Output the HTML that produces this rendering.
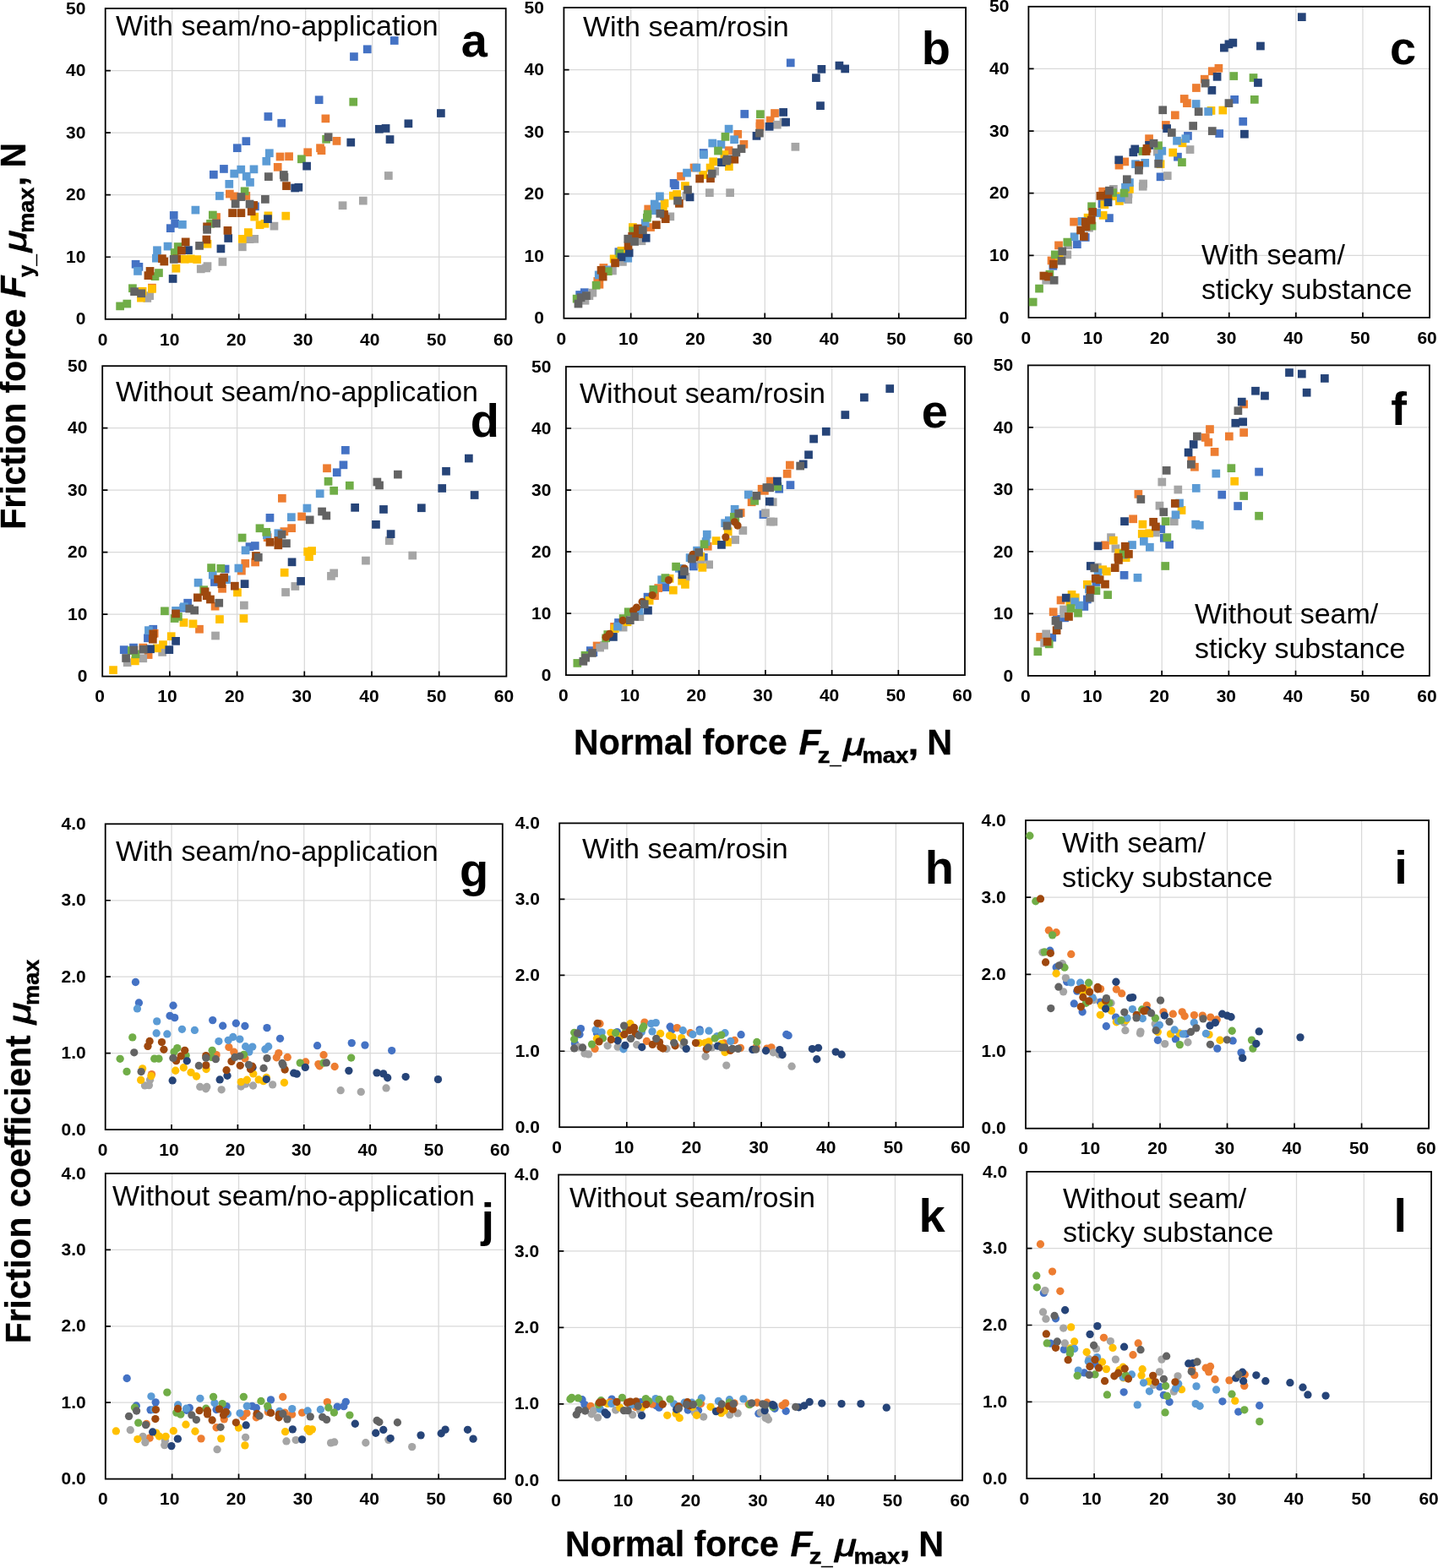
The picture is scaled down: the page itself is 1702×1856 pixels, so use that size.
<!DOCTYPE html>
<html lang="en">
<head>
<meta charset="utf-8">
<title>Friction force and friction coefficient vs normal force</title>
<style>
html,body{margin:0;padding:0;background:#fff;width:1702px;height:1856px;overflow:hidden;}
svg{display:block;}
text{font-family:"Liberation Sans", Arial, Helvetica, sans-serif;fill:#000;}
.tk{font-size:21px;font-weight:bold;}
.ti{font-size:34px;}
.pl{font-size:56px;font-weight:bold;}
.ax{font-weight:bold;}
.fr{fill:none;stroke:#000;stroke-width:1.8;}
.gr{stroke:#d9d9d9;stroke-width:1.25;fill:none;}
.tm{stroke:#000;stroke-width:1.7;fill:none;}
.B{fill:#4472C4;}
.O{fill:#ED7D31;}
.G{fill:#A5A5A5;}
.Y{fill:#FFC000;}
.L{fill:#5B9BD5;}
.R{fill:#70AD47;}
.D{fill:#264478;}
.N{fill:#9E480E;}
.K{fill:#636363;}
</style>
</head>
<body>
<svg width="1702" height="1856" viewBox="0 0 1702 1856" role="img" aria-label="Friction force and friction coefficient versus normal force, panels a to l">
<rect x="0" y="0" width="1702" height="1856" fill="#fff"/>
<g id="panel-a">
<path class="gr" d="M203.7 10V377.8M282.7 10V377.8M361.7 10V377.8M440.7 10V377.8M519.7 10V377.8M124.7 304.24H598.7M124.7 230.68H598.7M124.7 157.12H598.7M124.7 83.56H598.7"/>
<path class="tm" d="M203.7 377.8V371.6M282.7 377.8V371.6M361.7 377.8V371.6M440.7 377.8V371.6M519.7 377.8V371.6M124.7 304.24H130.9M124.7 230.68H130.9M124.7 157.12H130.9M124.7 83.56H130.9"/>
<rect class="fr" x="124.7" y="10" width="474" height="367.8"/>
<g class="B"><rect x="155.76" y="307.89" width="9.7" height="9.7"/><rect x="159.57" y="311" width="9.7" height="9.7"/><rect x="200.88" y="250.08" width="9.7" height="9.7"/><rect x="202.29" y="259.95" width="9.7" height="9.7"/><rect x="196.94" y="265.31" width="9.7" height="9.7"/><rect x="297.05" y="239.5" width="9.7" height="9.7"/><rect x="247.98" y="201.85" width="9.7" height="9.7"/><rect x="260.11" y="195.09" width="9.7" height="9.7"/><rect x="461.9" y="43.16" width="9.7" height="9.7"/><rect x="429.89" y="53.45" width="9.7" height="9.7"/><rect x="414.09" y="62.19" width="9.7" height="9.7"/><rect x="372.78" y="113.38" width="9.7" height="9.7"/><rect x="312.56" y="133.12" width="9.7" height="9.7"/><rect x="328.36" y="140.88" width="9.7" height="9.7"/><rect x="286.48" y="162.31" width="9.7" height="9.7"/><rect x="275.9" y="170.35" width="9.7" height="9.7"/></g>
<g class="O"><rect x="175.08" y="335.81" width="9.7" height="9.7"/><rect x="251.23" y="252.19" width="9.7" height="9.7"/><rect x="267.02" y="224.7" width="9.7" height="9.7"/><rect x="272.38" y="227.52" width="9.7" height="9.7"/><rect x="286.48" y="227.09" width="9.7" height="9.7"/><rect x="323.85" y="192.97" width="9.7" height="9.7"/><rect x="380.53" y="135.52" width="9.7" height="9.7"/><rect x="393.65" y="162.03" width="9.7" height="9.7"/><rect x="374.19" y="170.35" width="9.7" height="9.7"/><rect x="375.6" y="173.31" width="9.7" height="9.7"/><rect x="359.38" y="175.43" width="9.7" height="9.7"/><rect x="326.67" y="180.64" width="9.7" height="9.7"/><rect x="337.24" y="180.36" width="9.7" height="9.7"/></g>
<g class="G"><rect x="172.26" y="345.26" width="9.7" height="9.7"/><rect x="169.44" y="348.08" width="9.7" height="9.7"/><rect x="232.89" y="313.53" width="9.7" height="9.7"/><rect x="240.65" y="310.29" width="9.7" height="9.7"/><rect x="239.24" y="312.55" width="9.7" height="9.7"/><rect x="258.56" y="305.07" width="9.7" height="9.7"/><rect x="281.97" y="287.45" width="9.7" height="9.7"/><rect x="290.71" y="278.28" width="9.7" height="9.7"/><rect x="296.35" y="278" width="9.7" height="9.7"/><rect x="319.62" y="262.77" width="9.7" height="9.7"/><rect x="454.99" y="203.12" width="9.7" height="9.7"/><rect x="424.95" y="232.74" width="9.7" height="9.7"/><rect x="400.7" y="238.38" width="9.7" height="9.7"/></g>
<g class="Y"><rect x="163.8" y="339.9" width="9.7" height="9.7"/><rect x="162.11" y="347.8" width="9.7" height="9.7"/><rect x="175.08" y="337.08" width="9.7" height="9.7"/><rect x="213.86" y="301.97" width="9.7" height="9.7"/><rect x="220.91" y="301.55" width="9.7" height="9.7"/><rect x="228.38" y="302.25" width="9.7" height="9.7"/><rect x="203.56" y="312.83" width="9.7" height="9.7"/><rect x="240.65" y="283.92" width="9.7" height="9.7"/><rect x="281.97" y="278" width="9.7" height="9.7"/><rect x="289.02" y="270.24" width="9.7" height="9.7"/><rect x="296.35" y="251.77" width="9.7" height="9.7"/><rect x="302.69" y="261.36" width="9.7" height="9.7"/><rect x="308.62" y="259.95" width="9.7" height="9.7"/><rect x="312.56" y="250.5" width="9.7" height="9.7"/><rect x="333.43" y="250.78" width="9.7" height="9.7"/></g>
<g class="L"><rect x="158.16" y="316.07" width="9.7" height="9.7"/><rect x="181.14" y="291.4" width="9.7" height="9.7"/><rect x="180.01" y="300.84" width="9.7" height="9.7"/><rect x="193.69" y="286.74" width="9.7" height="9.7"/><rect x="211.04" y="260.94" width="9.7" height="9.7"/><rect x="226.55" y="243.73" width="9.7" height="9.7"/><rect x="255.03" y="227.09" width="9.7" height="9.7"/><rect x="266.45" y="212.99" width="9.7" height="9.7"/><rect x="272.38" y="200.73" width="9.7" height="9.7"/><rect x="280.41" y="195.79" width="9.7" height="9.7"/><rect x="286.9" y="203.83" width="9.7" height="9.7"/><rect x="291.13" y="211.02" width="9.7" height="9.7"/><rect x="295.64" y="195.51" width="9.7" height="9.7"/><rect x="313.97" y="176.41" width="9.7" height="9.7"/><rect x="310.45" y="186" width="9.7" height="9.7"/></g>
<g class="R"><rect x="137.29" y="357.53" width="9.7" height="9.7"/><rect x="145.47" y="354.71" width="9.7" height="9.7"/><rect x="152.09" y="336.38" width="9.7" height="9.7"/><rect x="183.12" y="318.19" width="9.7" height="9.7"/><rect x="178.6" y="322.28" width="9.7" height="9.7"/><rect x="205.82" y="287.17" width="9.7" height="9.7"/><rect x="201.87" y="294.22" width="9.7" height="9.7"/><rect x="246.99" y="249.66" width="9.7" height="9.7"/><rect x="244.17" y="259.95" width="9.7" height="9.7"/><rect x="284.79" y="221.45" width="9.7" height="9.7"/><rect x="413.39" y="115.78" width="9.7" height="9.7"/><rect x="381.24" y="159.91" width="9.7" height="9.7"/><rect x="352.05" y="183.46" width="9.7" height="9.7"/></g>
<g class="D"><rect x="218.09" y="291.25" width="9.7" height="9.7"/><rect x="199.76" y="325.1" width="9.7" height="9.7"/><rect x="265.33" y="277.15" width="9.7" height="9.7"/><rect x="256.58" y="289.56" width="9.7" height="9.7"/><rect x="312.14" y="254.31" width="9.7" height="9.7"/><rect x="344.29" y="217.65" width="9.7" height="9.7"/><rect x="348.52" y="216.94" width="9.7" height="9.7"/><rect x="517.03" y="129.17" width="9.7" height="9.7"/><rect x="478.53" y="141.44" width="9.7" height="9.7"/><rect x="443.99" y="147.93" width="9.7" height="9.7"/><rect x="451.74" y="147.08" width="9.7" height="9.7"/><rect x="456.68" y="160.2" width="9.7" height="9.7"/><rect x="410.43" y="163.72" width="9.7" height="9.7"/><rect x="358.25" y="191.78" width="9.7" height="9.7"/></g>
<g class="N"><rect x="172.68" y="316.07" width="9.7" height="9.7"/><rect x="170.57" y="321.29" width="9.7" height="9.7"/><rect x="187.07" y="301.27" width="9.7" height="9.7"/><rect x="189.46" y="304.65" width="9.7" height="9.7"/><rect x="214.84" y="281.52" width="9.7" height="9.7"/><rect x="210.05" y="291.68" width="9.7" height="9.7"/><rect x="204.27" y="301.55" width="9.7" height="9.7"/><rect x="240.23" y="263.48" width="9.7" height="9.7"/><rect x="239.52" y="278.7" width="9.7" height="9.7"/><rect x="264.62" y="267.99" width="9.7" height="9.7"/><rect x="270.26" y="247.26" width="9.7" height="9.7"/><rect x="280.56" y="247.26" width="9.7" height="9.7"/><rect x="292.82" y="245.43" width="9.7" height="9.7"/><rect x="295.36" y="238.09" width="9.7" height="9.7"/><rect x="334.14" y="215.25" width="9.7" height="9.7"/></g>
<g class="K"><rect x="154.21" y="340.33" width="9.7" height="9.7"/><rect x="162.39" y="342.44" width="9.7" height="9.7"/><rect x="200.88" y="301.97" width="9.7" height="9.7"/><rect x="251.23" y="259.67" width="9.7" height="9.7"/><rect x="240.23" y="267" width="9.7" height="9.7"/><rect x="231.2" y="286.04" width="9.7" height="9.7"/><rect x="280.56" y="228.22" width="9.7" height="9.7"/><rect x="273.79" y="236.4" width="9.7" height="9.7"/><rect x="290.71" y="236.68" width="9.7" height="9.7"/><rect x="309.04" y="231.04" width="9.7" height="9.7"/><rect x="312.99" y="204.25" width="9.7" height="9.7"/><rect x="330.9" y="202.14" width="9.7" height="9.7"/><rect x="331.6" y="204.96" width="9.7" height="9.7"/><rect x="383.78" y="157.38" width="9.7" height="9.7"/></g>
<text class="tk" text-anchor="end" x="101.4" y="384.4">0</text><text class="tk" text-anchor="end" x="101.4" y="310.84">10</text><text class="tk" text-anchor="end" x="101.4" y="237.28">20</text><text class="tk" text-anchor="end" x="101.4" y="163.72">30</text><text class="tk" text-anchor="end" x="101.4" y="90.16">40</text><text class="tk" text-anchor="end" x="101.4" y="16.6">50</text>
<text class="tk" text-anchor="middle" x="121.7" y="408.5">0</text><text class="tk" text-anchor="middle" x="200.7" y="408.5">10</text><text class="tk" text-anchor="middle" x="279.7" y="408.5">20</text><text class="tk" text-anchor="middle" x="358.7" y="408.5">30</text><text class="tk" text-anchor="middle" x="437.7" y="408.5">40</text><text class="tk" text-anchor="middle" x="516.7" y="408.5">50</text><text class="tk" text-anchor="middle" x="595.7" y="408.5">60</text>
<text class="ti" x="137" y="41.8">With seam/no-application</text>
<text class="pl" x="545.8" y="67.2">a</text>
</g>
<g id="panel-b">
<path class="gr" d="M746.68 9V376.8M825.97 9V376.8M905.25 9V376.8M984.53 9V376.8M1063.82 9V376.8M667.4 303.24H1143.1M667.4 229.68H1143.1M667.4 156.12H1143.1M667.4 82.56H1143.1"/>
<path class="tm" d="M746.68 376.8V370.6M825.97 376.8V370.6M905.25 376.8V370.6M984.53 376.8V370.6M1063.82 376.8V370.6M667.4 303.24H673.6M667.4 229.68H673.6M667.4 156.12H673.6M667.4 82.56H673.6"/>
<rect class="fr" x="667.4" y="9" width="475.7" height="367.8"/>
<g class="B"><rect x="686.94" y="341.31" width="9.7" height="9.7"/><rect x="681.3" y="344.13" width="9.7" height="9.7"/><rect x="727.55" y="293.37" width="9.7" height="9.7"/><rect x="792.7" y="212.01" width="9.7" height="9.7"/><rect x="794.11" y="214.4" width="9.7" height="9.7"/><rect x="930.89" y="69.53" width="9.7" height="9.7"/><rect x="876.39" y="130.11" width="9.7" height="9.7"/><rect x="827.86" y="176.17" width="9.7" height="9.7"/></g>
<g class="O"><rect x="704.57" y="331.87" width="9.7" height="9.7"/><rect x="702.45" y="328.06" width="9.7" height="9.7"/><rect x="709.5" y="312.12" width="9.7" height="9.7"/><rect x="765.2" y="264.18" width="9.7" height="9.7"/><rect x="762.38" y="242.61" width="9.7" height="9.7"/><rect x="801.16" y="203.83" width="9.7" height="9.7"/><rect x="816.67" y="193.68" width="9.7" height="9.7"/><rect x="912.14" y="129.17" width="9.7" height="9.7"/><rect x="906.78" y="137.64" width="9.7" height="9.7"/><rect x="894.65" y="141.21" width="9.7" height="9.7"/><rect x="894.65" y="144.91" width="9.7" height="9.7"/><rect x="868.41" y="153.96" width="9.7" height="9.7"/><rect x="875.57" y="165.89" width="9.7" height="9.7"/><rect x="857.72" y="173.29" width="9.7" height="9.7"/></g>
<g class="G"><rect x="696.53" y="341.74" width="9.7" height="9.7"/><rect x="692.58" y="345.26" width="9.7" height="9.7"/><rect x="687.65" y="350.9" width="9.7" height="9.7"/><rect x="720.08" y="315.65" width="9.7" height="9.7"/><rect x="732.07" y="305.07" width="9.7" height="9.7"/><rect x="754.63" y="280.4" width="9.7" height="9.7"/><rect x="788.47" y="251.49" width="9.7" height="9.7"/><rect x="807.51" y="227.09" width="9.7" height="9.7"/><rect x="841.35" y="197.91" width="9.7" height="9.7"/><rect x="835" y="223.29" width="9.7" height="9.7"/><rect x="859.26" y="223.29" width="9.7" height="9.7"/><rect x="914.96" y="142.85" width="9.7" height="9.7"/><rect x="922.71" y="139.75" width="9.7" height="9.7"/><rect x="936.53" y="168.94" width="9.7" height="9.7"/></g>
<g class="Y"><rect x="721.77" y="301.55" width="9.7" height="9.7"/><rect x="730.66" y="291.96" width="9.7" height="9.7"/><rect x="744.05" y="264.18" width="9.7" height="9.7"/><rect x="780.01" y="244.44" width="9.7" height="9.7"/><rect x="781.7" y="235.7" width="9.7" height="9.7"/><rect x="791.99" y="226.81" width="9.7" height="9.7"/><rect x="796.23" y="225.12" width="9.7" height="9.7"/><rect x="806.1" y="215.25" width="9.7" height="9.7"/><rect x="827.25" y="202.14" width="9.7" height="9.7"/><rect x="835.71" y="193.68" width="9.7" height="9.7"/><rect x="857.99" y="192.27" width="9.7" height="9.7"/><rect x="852.54" y="178.23" width="9.7" height="9.7"/><rect x="839.37" y="186.45" width="9.7" height="9.7"/></g>
<g class="L"><rect x="703.86" y="320.58" width="9.7" height="9.7"/><rect x="714.02" y="314.52" width="9.7" height="9.7"/><rect x="738.41" y="300.84" width="9.7" height="9.7"/><rect x="758.86" y="259.25" width="9.7" height="9.7"/><rect x="770.14" y="244.44" width="9.7" height="9.7"/><rect x="769.86" y="236.68" width="9.7" height="9.7"/><rect x="772.25" y="239.5" width="9.7" height="9.7"/><rect x="776.06" y="227.52" width="9.7" height="9.7"/><rect x="808.21" y="199.74" width="9.7" height="9.7"/><rect x="819.49" y="193.68" width="9.7" height="9.7"/><rect x="857.72" y="147.79" width="9.7" height="9.7"/><rect x="864.22" y="160.38" width="9.7" height="9.7"/><rect x="838.39" y="164.66" width="9.7" height="9.7"/><rect x="848.59" y="166.05" width="9.7" height="9.7"/><rect x="828.11" y="178.23" width="9.7" height="9.7"/></g>
<g class="R"><rect x="677.78" y="348.79" width="9.7" height="9.7"/><rect x="700.76" y="332.85" width="9.7" height="9.7"/><rect x="714.86" y="316.35" width="9.7" height="9.7"/><rect x="728.54" y="295.2" width="9.7" height="9.7"/><rect x="744.47" y="268.41" width="9.7" height="9.7"/><rect x="761.68" y="248.67" width="9.7" height="9.7"/><rect x="760.97" y="252.9" width="9.7" height="9.7"/><rect x="895.06" y="130.36" width="9.7" height="9.7"/><rect x="853.6" y="157.01" width="9.7" height="9.7"/><rect x="845.13" y="173.7" width="9.7" height="9.7"/></g>
<g class="D"><rect x="730.66" y="299.43" width="9.7" height="9.7"/><rect x="739.82" y="294.5" width="9.7" height="9.7"/><rect x="759.84" y="276.87" width="9.7" height="9.7"/><rect x="811.74" y="228.5" width="9.7" height="9.7"/><rect x="849.1" y="187.33" width="9.7" height="9.7"/><rect x="967.55" y="77" width="9.7" height="9.7"/><rect x="961.07" y="87.29" width="9.7" height="9.7"/><rect x="988.56" y="72.77" width="9.7" height="9.7"/><rect x="995.33" y="76.58" width="9.7" height="9.7"/><rect x="966.14" y="120.29" width="9.7" height="9.7"/><rect x="922.29" y="128.05" width="9.7" height="9.7"/><rect x="925.25" y="139.75" width="9.7" height="9.7"/><rect x="905.79" y="144.97" width="9.7" height="9.7"/><rect x="890.62" y="156.02" width="9.7" height="9.7"/></g>
<g class="N"><rect x="708.8" y="322.7" width="9.7" height="9.7"/><rect x="706.68" y="314.94" width="9.7" height="9.7"/><rect x="723.18" y="306.48" width="9.7" height="9.7"/><rect x="738.69" y="286.04" width="9.7" height="9.7"/><rect x="743.35" y="274.76" width="9.7" height="9.7"/><rect x="751.1" y="272.22" width="9.7" height="9.7"/><rect x="749.97" y="265.59" width="9.7" height="9.7"/><rect x="771.97" y="261.36" width="9.7" height="9.7"/><rect x="782.83" y="254.31" width="9.7" height="9.7"/><rect x="781.14" y="249.09" width="9.7" height="9.7"/><rect x="799.05" y="235.98" width="9.7" height="9.7"/><rect x="823.3" y="206.65" width="9.7" height="9.7"/><rect x="836.13" y="206.37" width="9.7" height="9.7"/><rect x="864.46" y="183.82" width="9.7" height="9.7"/></g>
<g class="K"><rect x="679.61" y="354.71" width="9.7" height="9.7"/><rect x="682.71" y="347.38" width="9.7" height="9.7"/><rect x="689.06" y="345.26" width="9.7" height="9.7"/><rect x="738.41" y="277.86" width="9.7" height="9.7"/><rect x="746.17" y="281.1" width="9.7" height="9.7"/><rect x="756.04" y="267.42" width="9.7" height="9.7"/><rect x="776.48" y="247.96" width="9.7" height="9.7"/><rect x="797.21" y="232.74" width="9.7" height="9.7"/><rect x="809.2" y="219.76" width="9.7" height="9.7"/><rect x="837.82" y="200.73" width="9.7" height="9.7"/><rect x="894.07" y="152.73" width="9.7" height="9.7"/><rect x="872.69" y="171.24" width="9.7" height="9.7"/><rect x="866.52" y="175.6" width="9.7" height="9.7"/><rect x="855.83" y="183.58" width="9.7" height="9.7"/><rect x="855" y="185.63" width="9.7" height="9.7"/></g>
<text class="tk" text-anchor="end" x="643.9" y="383.4">0</text><text class="tk" text-anchor="end" x="643.9" y="309.84">10</text><text class="tk" text-anchor="end" x="643.9" y="236.28">20</text><text class="tk" text-anchor="end" x="643.9" y="162.72">30</text><text class="tk" text-anchor="end" x="643.9" y="89.16">40</text><text class="tk" text-anchor="end" x="643.9" y="15.6">50</text>
<text class="tk" text-anchor="middle" x="664.4" y="407.5">0</text><text class="tk" text-anchor="middle" x="743.68" y="407.5">10</text><text class="tk" text-anchor="middle" x="822.97" y="407.5">20</text><text class="tk" text-anchor="middle" x="902.25" y="407.5">30</text><text class="tk" text-anchor="middle" x="981.53" y="407.5">40</text><text class="tk" text-anchor="middle" x="1060.82" y="407.5">50</text><text class="tk" text-anchor="middle" x="1140.1" y="407.5">60</text>
<text class="ti" x="690" y="43.3">With seam/rosin</text>
<text class="pl" x="1090.7" y="75.8">b</text>
</g>
<g id="panel-c">
<path class="gr" d="M1296.52 7.8V375.9M1375.63 7.8V375.9M1454.75 7.8V375.9M1533.87 7.8V375.9M1612.98 7.8V375.9M1217.4 302.28H1692.1M1217.4 228.66H1692.1M1217.4 155.04H1692.1M1217.4 81.42H1692.1"/>
<path class="tm" d="M1296.52 375.9V369.7M1375.63 375.9V369.7M1454.75 375.9V369.7M1533.87 375.9V369.7M1612.98 375.9V369.7M1217.4 302.28H1223.6M1217.4 228.66H1223.6M1217.4 155.04H1223.6M1217.4 81.42H1223.6"/>
<rect class="fr" x="1217.4" y="7.8" width="474.7" height="368.1"/>
<g class="B"><rect x="1241.53" y="309.94" width="9.7" height="9.7"/><rect x="1270.01" y="284.28" width="9.7" height="9.7"/><rect x="1279.89" y="276.1" width="9.7" height="9.7"/><rect x="1308.09" y="253.26" width="9.7" height="9.7"/><rect x="1299.63" y="236.62" width="9.7" height="9.7"/><rect x="1368.72" y="204.47" width="9.7" height="9.7"/><rect x="1456.3" y="113" width="9.7" height="9.7"/><rect x="1438.33" y="153.2" width="9.7" height="9.7"/><rect x="1466.38" y="138.98" width="9.7" height="9.7"/><rect x="1401.11" y="156.04" width="9.7" height="9.7"/><rect x="1389.09" y="180.86" width="9.7" height="9.7"/></g>
<g class="O"><rect x="1239.7" y="303.6" width="9.7" height="9.7"/><rect x="1248.16" y="285.55" width="9.7" height="9.7"/><rect x="1266.21" y="257.77" width="9.7" height="9.7"/><rect x="1300.33" y="221.81" width="9.7" height="9.7"/><rect x="1319.65" y="190.79" width="9.7" height="9.7"/><rect x="1326.42" y="186.56" width="9.7" height="9.7"/><rect x="1437.56" y="75.9" width="9.7" height="9.7"/><rect x="1429.93" y="79.39" width="9.7" height="9.7"/><rect x="1420.88" y="88.83" width="9.7" height="9.7"/><rect x="1411.06" y="99.17" width="9.7" height="9.7"/><rect x="1396.84" y="112.09" width="9.7" height="9.7"/><rect x="1400.07" y="117.27" width="9.7" height="9.7"/><rect x="1385.98" y="131.48" width="9.7" height="9.7"/><rect x="1375" y="143.12" width="9.7" height="9.7"/><rect x="1355.22" y="159.27" width="9.7" height="9.7"/></g>
<g class="G"><rect x="1233.35" y="326.87" width="9.7" height="9.7"/><rect x="1258.45" y="296.55" width="9.7" height="9.7"/><rect x="1259.44" y="285.27" width="9.7" height="9.7"/><rect x="1284.12" y="264.82" width="9.7" height="9.7"/><rect x="1313.02" y="218.99" width="9.7" height="9.7"/><rect x="1330.37" y="231.4" width="9.7" height="9.7"/><rect x="1330.65" y="224.63" width="9.7" height="9.7"/><rect x="1348.28" y="212.65" width="9.7" height="9.7"/><rect x="1347.85" y="215.89" width="9.7" height="9.7"/><rect x="1376.9" y="203.2" width="9.7" height="9.7"/><rect x="1403.69" y="172.2" width="9.7" height="9.7"/><rect x="1364.91" y="174.79" width="9.7" height="9.7"/></g>
<g class="Y"><rect x="1248.86" y="300.07" width="9.7" height="9.7"/><rect x="1282.71" y="252.84" width="9.7" height="9.7"/><rect x="1300.76" y="250.01" width="9.7" height="9.7"/><rect x="1302.45" y="237.32" width="9.7" height="9.7"/><rect x="1315.84" y="227.45" width="9.7" height="9.7"/><rect x="1320.07" y="233.09" width="9.7" height="9.7"/><rect x="1332.06" y="218.99" width="9.7" height="9.7"/><rect x="1368.72" y="189.38" width="9.7" height="9.7"/><rect x="1428.64" y="126.05" width="9.7" height="9.7"/><rect x="1442.47" y="125.67" width="9.7" height="9.7"/><rect x="1394.64" y="164.44" width="9.7" height="9.7"/><rect x="1383.4" y="175.69" width="9.7" height="9.7"/></g>
<g class="L"><rect x="1266.77" y="275.4" width="9.7" height="9.7"/><rect x="1275.66" y="257.07" width="9.7" height="9.7"/><rect x="1293.28" y="247.19" width="9.7" height="9.7"/><rect x="1321.91" y="229.57" width="9.7" height="9.7"/><rect x="1327.12" y="216.88" width="9.7" height="9.7"/><rect x="1332.06" y="211.24" width="9.7" height="9.7"/><rect x="1339.11" y="189.38" width="9.7" height="9.7"/><rect x="1350.39" y="187.97" width="9.7" height="9.7"/><rect x="1410.8" y="118.17" width="9.7" height="9.7"/><rect x="1425.28" y="127.22" width="9.7" height="9.7"/><rect x="1398.52" y="159.27" width="9.7" height="9.7"/><rect x="1388.18" y="161.86" width="9.7" height="9.7"/><rect x="1370.47" y="173.88" width="9.7" height="9.7"/><rect x="1366.85" y="181.9" width="9.7" height="9.7"/></g>
<g class="R"><rect x="1217.84" y="352.67" width="9.7" height="9.7"/><rect x="1225.17" y="336.74" width="9.7" height="9.7"/><rect x="1237.58" y="319.82" width="9.7" height="9.7"/><rect x="1243.93" y="296.55" width="9.7" height="9.7"/><rect x="1258.45" y="281.74" width="9.7" height="9.7"/><rect x="1287.64" y="262.71" width="9.7" height="9.7"/><rect x="1287.22" y="239.44" width="9.7" height="9.7"/><rect x="1312.32" y="223.22" width="9.7" height="9.7"/><rect x="1325.71" y="223.65" width="9.7" height="9.7"/><rect x="1394.1" y="187.27" width="9.7" height="9.7"/><rect x="1455.4" y="85.21" width="9.7" height="9.7"/><rect x="1478.66" y="87.15" width="9.7" height="9.7"/><rect x="1479.96" y="113" width="9.7" height="9.7"/><rect x="1366.21" y="167.42" width="9.7" height="9.7"/><rect x="1347.46" y="174.14" width="9.7" height="9.7"/></g>
<g class="D"><rect x="1306.68" y="234.5" width="9.7" height="9.7"/><rect x="1319.37" y="184.44" width="9.7" height="9.7"/><rect x="1454.49" y="45.78" width="9.7" height="9.7"/><rect x="1449.58" y="47.46" width="9.7" height="9.7"/><rect x="1444.02" y="51.73" width="9.7" height="9.7"/><rect x="1487.07" y="49.66" width="9.7" height="9.7"/><rect x="1435.75" y="85.98" width="9.7" height="9.7"/><rect x="1429.54" y="102.01" width="9.7" height="9.7"/><rect x="1484.09" y="93.09" width="9.7" height="9.7"/><rect x="1376.29" y="147.25" width="9.7" height="9.7"/><rect x="1468.06" y="153.85" width="9.7" height="9.7"/><rect x="1355.22" y="167.03" width="9.7" height="9.7"/><rect x="1338.42" y="171.55" width="9.7" height="9.7"/><rect x="1336.48" y="175.43" width="9.7" height="9.7"/><rect x="1535.97" y="15.31" width="9.7" height="9.7"/></g>
<g class="N"><rect x="1230.53" y="321.65" width="9.7" height="9.7"/><rect x="1236.17" y="322.64" width="9.7" height="9.7"/><rect x="1242.09" y="307.83" width="9.7" height="9.7"/><rect x="1278.05" y="275.11" width="9.7" height="9.7"/><rect x="1274.25" y="267.64" width="9.7" height="9.7"/><rect x="1280.59" y="263.41" width="9.7" height="9.7"/><rect x="1279.89" y="257.77" width="9.7" height="9.7"/><rect x="1286.94" y="255.66" width="9.7" height="9.7"/><rect x="1288.35" y="246.07" width="9.7" height="9.7"/><rect x="1297.51" y="227.03" width="9.7" height="9.7"/><rect x="1306.68" y="225.34" width="9.7" height="9.7"/><rect x="1343.34" y="190.79" width="9.7" height="9.7"/><rect x="1352.64" y="170.91" width="9.7" height="9.7"/><rect x="1351.73" y="174.14" width="9.7" height="9.7"/></g>
<g class="K"><rect x="1242.8" y="326.87" width="9.7" height="9.7"/><rect x="1251.68" y="303.88" width="9.7" height="9.7"/><rect x="1252.39" y="292.6" width="9.7" height="9.7"/><rect x="1308.09" y="220.83" width="9.7" height="9.7"/><rect x="1328.96" y="207.43" width="9.7" height="9.7"/><rect x="1343.06" y="196.71" width="9.7" height="9.7"/><rect x="1366.33" y="188.96" width="9.7" height="9.7"/><rect x="1421.79" y="93.74" width="9.7" height="9.7"/><rect x="1449.58" y="117.27" width="9.7" height="9.7"/><rect x="1413.78" y="127.35" width="9.7" height="9.7"/><rect x="1371.38" y="125.41" width="9.7" height="9.7"/><rect x="1381.98" y="152.17" width="9.7" height="9.7"/><rect x="1407.31" y="144.15" width="9.7" height="9.7"/><rect x="1429.93" y="150.23" width="9.7" height="9.7"/><rect x="1360.65" y="164.83" width="9.7" height="9.7"/></g>
<text class="tk" text-anchor="end" x="1194.4" y="382.5">0</text><text class="tk" text-anchor="end" x="1194.4" y="308.88">10</text><text class="tk" text-anchor="end" x="1194.4" y="235.26">20</text><text class="tk" text-anchor="end" x="1194.4" y="161.64">30</text><text class="tk" text-anchor="end" x="1194.4" y="88.02">40</text><text class="tk" text-anchor="end" x="1194.4" y="14.4">50</text>
<text class="tk" text-anchor="middle" x="1214.4" y="406.6">0</text><text class="tk" text-anchor="middle" x="1293.52" y="406.6">10</text><text class="tk" text-anchor="middle" x="1372.63" y="406.6">20</text><text class="tk" text-anchor="middle" x="1451.75" y="406.6">30</text><text class="tk" text-anchor="middle" x="1530.87" y="406.6">40</text><text class="tk" text-anchor="middle" x="1609.98" y="406.6">50</text><text class="tk" text-anchor="middle" x="1689.1" y="406.6">60</text>
<text class="ti" x="1422" y="312.7">With seam/</text>
<text class="ti" x="1422" y="354.3">sticky substance</text>
<text class="pl" x="1644.9" y="76.3">c</text>
</g>
<g id="panel-d">
<path class="gr" d="M200.9 433.2V800.6M280.6 433.2V800.6M360.3 433.2V800.6M440 433.2V800.6M519.7 433.2V800.6M121.2 727.12H599.4M121.2 653.64H599.4M121.2 580.16H599.4M121.2 506.68H599.4"/>
<path class="tm" d="M200.9 800.6V794.4M280.6 800.6V794.4M360.3 800.6V794.4M440 800.6V794.4M519.7 800.6V794.4M121.2 727.12H127.4M121.2 653.64H127.4M121.2 580.16H127.4M121.2 506.68H127.4"/>
<rect class="fr" x="121.2" y="433.2" width="478.2" height="367.4"/>
<g class="B"><rect x="141.88" y="764.27" width="9.7" height="9.7"/><rect x="153.16" y="761.74" width="9.7" height="9.7"/><rect x="176.42" y="739.88" width="9.7" height="9.7"/><rect x="170.08" y="750.46" width="9.7" height="9.7"/><rect x="217.32" y="708.86" width="9.7" height="9.7"/><rect x="212.38" y="714.78" width="9.7" height="9.7"/><rect x="261.74" y="668.67" width="9.7" height="9.7"/><rect x="249.05" y="684.18" width="9.7" height="9.7"/><rect x="290.64" y="642.3" width="9.7" height="9.7"/><rect x="296.99" y="641.17" width="9.7" height="9.7"/><rect x="314.62" y="608.03" width="9.7" height="9.7"/><rect x="404.01" y="528.01" width="9.7" height="9.7"/><rect x="401.61" y="545.49" width="9.7" height="9.7"/><rect x="393.86" y="554.37" width="9.7" height="9.7"/></g>
<g class="O"><rect x="164.44" y="761.74" width="9.7" height="9.7"/><rect x="170.78" y="770.2" width="9.7" height="9.7"/><rect x="177.84" y="744.82" width="9.7" height="9.7"/><rect x="231.14" y="739.88" width="9.7" height="9.7"/><rect x="249.75" y="712.81" width="9.7" height="9.7"/><rect x="258.21" y="691.94" width="9.7" height="9.7"/><rect x="281.05" y="670.78" width="9.7" height="9.7"/><rect x="285.43" y="662.04" width="9.7" height="9.7"/><rect x="297.27" y="660.63" width="9.7" height="9.7"/><rect x="311.8" y="631.3" width="9.7" height="9.7"/><rect x="331.54" y="624.25" width="9.7" height="9.7"/><rect x="340.28" y="620.3" width="9.7" height="9.7"/><rect x="382.15" y="549.44" width="9.7" height="9.7"/><rect x="328.99" y="584.97" width="9.7" height="9.7"/><rect x="352.26" y="606.55" width="9.7" height="9.7"/></g>
<g class="G"><rect x="145.83" y="779.36" width="9.7" height="9.7"/><rect x="164.44" y="774.43" width="9.7" height="9.7"/><rect x="187.28" y="767.09" width="9.7" height="9.7"/><rect x="250.17" y="747.64" width="9.7" height="9.7"/><rect x="284.02" y="711.68" width="9.7" height="9.7"/><rect x="333.23" y="696.17" width="9.7" height="9.7"/><rect x="344.51" y="689.12" width="9.7" height="9.7"/><rect x="455.9" y="635.17" width="9.7" height="9.7"/><rect x="483.4" y="652.66" width="9.7" height="9.7"/><rect x="428.12" y="658.72" width="9.7" height="9.7"/><rect x="390.33" y="673.53" width="9.7" height="9.7"/><rect x="387.09" y="677.05" width="9.7" height="9.7"/></g>
<g class="Y"><rect x="129.19" y="788.25" width="9.7" height="9.7"/><rect x="154.99" y="777.53" width="9.7" height="9.7"/><rect x="181.08" y="762.44" width="9.7" height="9.7"/><rect x="188.13" y="758.21" width="9.7" height="9.7"/><rect x="197.86" y="748.34" width="9.7" height="9.7"/><rect x="212.66" y="732.12" width="9.7" height="9.7"/><rect x="223.66" y="733.53" width="9.7" height="9.7"/><rect x="255.11" y="728.18" width="9.7" height="9.7"/><rect x="283.59" y="727.19" width="9.7" height="9.7"/><rect x="276.12" y="696.45" width="9.7" height="9.7"/><rect x="331.82" y="672.9" width="9.7" height="9.7"/><rect x="359.31" y="648.15" width="9.7" height="9.7"/><rect x="364.25" y="647.16" width="9.7" height="9.7"/><rect x="361.14" y="654.21" width="9.7" height="9.7"/></g>
<g class="L"><rect x="171.07" y="741.29" width="9.7" height="9.7"/><rect x="203.22" y="718.02" width="9.7" height="9.7"/><rect x="213.09" y="713.37" width="9.7" height="9.7"/><rect x="229.73" y="684.89" width="9.7" height="9.7"/><rect x="246.93" y="675.72" width="9.7" height="9.7"/><rect x="263.15" y="681.36" width="9.7" height="9.7"/><rect x="277.53" y="667.68" width="9.7" height="9.7"/><rect x="285.71" y="646.53" width="9.7" height="9.7"/><rect x="311.09" y="628.48" width="9.7" height="9.7"/><rect x="324.49" y="626.37" width="9.7" height="9.7"/><rect x="340" y="607.33" width="9.7" height="9.7"/><rect x="373.83" y="579.47" width="9.7" height="9.7"/><rect x="358.6" y="596.68" width="9.7" height="9.7"/></g>
<g class="R"><rect x="151.04" y="765.26" width="9.7" height="9.7"/><rect x="155.7" y="769.49" width="9.7" height="9.7"/><rect x="190.1" y="718.45" width="9.7" height="9.7"/><rect x="206.04" y="725.07" width="9.7" height="9.7"/><rect x="201.81" y="727.19" width="9.7" height="9.7"/><rect x="236.35" y="693.35" width="9.7" height="9.7"/><rect x="245.24" y="667.26" width="9.7" height="9.7"/><rect x="256.52" y="667.96" width="9.7" height="9.7"/><rect x="281.76" y="631.72" width="9.7" height="9.7"/><rect x="302.63" y="620.44" width="9.7" height="9.7"/><rect x="310.39" y="624.96" width="9.7" height="9.7"/><rect x="383.7" y="564.95" width="9.7" height="9.7"/><rect x="390.33" y="575.95" width="9.7" height="9.7"/><rect x="408.95" y="569.89" width="9.7" height="9.7"/></g>
<g class="D"><rect x="173.18" y="763.43" width="9.7" height="9.7"/><rect x="195.46" y="764.27" width="9.7" height="9.7"/><rect x="203.22" y="753.98" width="9.7" height="9.7"/><rect x="284.72" y="686.3" width="9.7" height="9.7"/><rect x="340.7" y="660.49" width="9.7" height="9.7"/><rect x="351.28" y="683.05" width="9.7" height="9.7"/><rect x="415.29" y="595.97" width="9.7" height="9.7"/><rect x="449.13" y="598.09" width="9.7" height="9.7"/><rect x="493.97" y="596.4" width="9.7" height="9.7"/><rect x="440.11" y="616" width="9.7" height="9.7"/><rect x="457.74" y="627.28" width="9.7" height="9.7"/><rect x="523.16" y="552.96" width="9.7" height="9.7"/><rect x="518.37" y="573.13" width="9.7" height="9.7"/><rect x="550" y="537.72" width="9.7" height="9.7"/><rect x="556.78" y="581.15" width="9.7" height="9.7"/></g>
<g class="N"><rect x="176.42" y="745.52" width="9.7" height="9.7"/><rect x="176" y="751.87" width="9.7" height="9.7"/><rect x="203.22" y="721.55" width="9.7" height="9.7"/><rect x="229.02" y="702.51" width="9.7" height="9.7"/><rect x="237.76" y="695.46" width="9.7" height="9.7"/><rect x="244.11" y="704.63" width="9.7" height="9.7"/><rect x="239.88" y="700.4" width="9.7" height="9.7"/><rect x="253.28" y="680.66" width="9.7" height="9.7"/><rect x="260.33" y="678.82" width="9.7" height="9.7"/><rect x="257.51" y="686.3" width="9.7" height="9.7"/><rect x="273.02" y="688.83" width="9.7" height="9.7"/><rect x="298.12" y="653.16" width="9.7" height="9.7"/><rect x="314.62" y="636.94" width="9.7" height="9.7"/><rect x="324.49" y="635.25" width="9.7" height="9.7"/><rect x="324.49" y="640.47" width="9.7" height="9.7"/></g>
<g class="K"><rect x="153.58" y="764.56" width="9.7" height="9.7"/><rect x="164.86" y="763.85" width="9.7" height="9.7"/><rect x="144.27" y="774.15" width="9.7" height="9.7"/><rect x="219.43" y="715.63" width="9.7" height="9.7"/><rect x="225.36" y="717.6" width="9.7" height="9.7"/><rect x="254.4" y="708.86" width="9.7" height="9.7"/><rect x="300.94" y="654.85" width="9.7" height="9.7"/><rect x="334.07" y="638.35" width="9.7" height="9.7"/><rect x="328.72" y="627.78" width="9.7" height="9.7"/><rect x="376.23" y="600.63" width="9.7" height="9.7"/><rect x="381.45" y="605.56" width="9.7" height="9.7"/><rect x="361.85" y="610.5" width="9.7" height="9.7"/><rect x="466.05" y="556.77" width="9.7" height="9.7"/><rect x="441.52" y="565.66" width="9.7" height="9.7"/><rect x="444.2" y="569.6" width="9.7" height="9.7"/></g>
<text class="tk" text-anchor="end" x="103.4" y="807.2">0</text><text class="tk" text-anchor="end" x="103.4" y="733.72">10</text><text class="tk" text-anchor="end" x="103.4" y="660.24">20</text><text class="tk" text-anchor="end" x="103.4" y="586.76">30</text><text class="tk" text-anchor="end" x="103.4" y="513.28">40</text><text class="tk" text-anchor="end" x="103.4" y="439.8">50</text>
<text class="tk" text-anchor="middle" x="118.2" y="831.3">0</text><text class="tk" text-anchor="middle" x="197.9" y="831.3">10</text><text class="tk" text-anchor="middle" x="277.6" y="831.3">20</text><text class="tk" text-anchor="middle" x="357.3" y="831.3">30</text><text class="tk" text-anchor="middle" x="437" y="831.3">40</text><text class="tk" text-anchor="middle" x="516.7" y="831.3">50</text><text class="tk" text-anchor="middle" x="596.4" y="831.3">60</text>
<text class="ti" x="137" y="475">Without seam/no-application</text>
<text class="pl" x="556.7" y="517.2">d</text>
</g>
<g id="panel-e">
<path class="gr" d="M748.58 434V799.1M827.27 434V799.1M905.95 434V799.1M984.63 434V799.1M1063.32 434V799.1M669.9 726.08H1142M669.9 653.06H1142M669.9 580.04H1142M669.9 507.02H1142"/>
<path class="tm" d="M748.58 799.1V792.9M827.27 799.1V792.9M905.95 799.1V792.9M984.63 799.1V792.9M1063.32 799.1V792.9M669.9 726.08H676.1M669.9 653.06H676.1M669.9 580.04H676.1M669.9 507.02H676.1"/>
<rect class="fr" x="669.9" y="434" width="472.1" height="365.1"/>
<g class="B"><rect x="693.99" y="765.26" width="9.7" height="9.7"/><rect x="697.52" y="767.38" width="9.7" height="9.7"/><rect x="727.13" y="732.12" width="9.7" height="9.7"/><rect x="761.68" y="701.81" width="9.7" height="9.7"/><rect x="782.55" y="690.24" width="9.7" height="9.7"/><rect x="815.97" y="665.57" width="9.7" height="9.7"/><rect x="827.95" y="654.99" width="9.7" height="9.7"/><rect x="930.61" y="569.26" width="9.7" height="9.7"/><rect x="917.36" y="573.92" width="9.7" height="9.7"/><rect x="898.6" y="604.23" width="9.7" height="9.7"/></g>
<g class="O"><rect x="701.75" y="759.62" width="9.7" height="9.7"/><rect x="722.19" y="737.06" width="9.7" height="9.7"/><rect x="770.14" y="700.4" width="9.7" height="9.7"/><rect x="774.37" y="691.23" width="9.7" height="9.7"/><rect x="832.89" y="641.88" width="9.7" height="9.7"/><rect x="930.05" y="545.71" width="9.7" height="9.7"/><rect x="926.81" y="556.01" width="9.7" height="9.7"/><rect x="907.07" y="564.75" width="9.7" height="9.7"/><rect x="896.77" y="573.92" width="9.7" height="9.7"/><rect x="900.01" y="576.03" width="9.7" height="9.7"/><rect x="884.79" y="589.43" width="9.7" height="9.7"/><rect x="871.81" y="602.12" width="9.7" height="9.7"/></g>
<g class="G"><rect x="705.27" y="761.74" width="9.7" height="9.7"/><rect x="710.21" y="758.92" width="9.7" height="9.7"/><rect x="732.77" y="737.76" width="9.7" height="9.7"/><rect x="752.51" y="725.36" width="9.7" height="9.7"/><rect x="806.8" y="677.84" width="9.7" height="9.7"/><rect x="834.3" y="663.45" width="9.7" height="9.7"/><rect x="824.43" y="663.03" width="9.7" height="9.7"/><rect x="865.32" y="634.12" width="9.7" height="9.7"/><rect x="874.49" y="623.12" width="9.7" height="9.7"/><rect x="909.89" y="589.43" width="9.7" height="9.7"/><rect x="901.14" y="602.4" width="9.7" height="9.7"/><rect x="907.07" y="612.69" width="9.7" height="9.7"/><rect x="910.59" y="612.69" width="9.7" height="9.7"/></g>
<g class="Y"><rect x="722.9" y="739.17" width="9.7" height="9.7"/><rect x="737.71" y="731.42" width="9.7" height="9.7"/><rect x="763.79" y="706.04" width="9.7" height="9.7"/><rect x="791.99" y="693.77" width="9.7" height="9.7"/><rect x="787.76" y="679.95" width="9.7" height="9.7"/><rect x="802.29" y="682.77" width="9.7" height="9.7"/><rect x="806.1" y="687" width="9.7" height="9.7"/><rect x="826.54" y="666.98" width="9.7" height="9.7"/><rect x="824.43" y="653.86" width="9.7" height="9.7"/><rect x="842.76" y="635.25" width="9.7" height="9.7"/><rect x="856.15" y="636.94" width="9.7" height="9.7"/><rect x="856.86" y="624.25" width="9.7" height="9.7"/></g>
<g class="L"><rect x="726.14" y="736.64" width="9.7" height="9.7"/><rect x="751.81" y="718.02" width="9.7" height="9.7"/><rect x="778.32" y="681.36" width="9.7" height="9.7"/><rect x="799.05" y="667.96" width="9.7" height="9.7"/><rect x="811.74" y="655.27" width="9.7" height="9.7"/><rect x="820.2" y="646.81" width="9.7" height="9.7"/><rect x="831.9" y="627.78" width="9.7" height="9.7"/><rect x="830.77" y="636.24" width="9.7" height="9.7"/><rect x="853.33" y="614.38" width="9.7" height="9.7"/><rect x="880.98" y="580.68" width="9.7" height="9.7"/><rect x="864.76" y="597.89" width="9.7" height="9.7"/><rect x="857.99" y="611.28" width="9.7" height="9.7"/></g>
<g class="R"><rect x="678.48" y="780.07" width="9.7" height="9.7"/><rect x="687.65" y="770.9" width="9.7" height="9.7"/><rect x="712.32" y="750.46" width="9.7" height="9.7"/><rect x="714.44" y="746.23" width="9.7" height="9.7"/><rect x="732.77" y="727.19" width="9.7" height="9.7"/><rect x="738.83" y="719.43" width="9.7" height="9.7"/><rect x="768.45" y="692.92" width="9.7" height="9.7"/><rect x="782.55" y="679.25" width="9.7" height="9.7"/><rect x="795.24" y="665.85" width="9.7" height="9.7"/><rect x="828.66" y="639.34" width="9.7" height="9.7"/><rect x="915.53" y="571.1" width="9.7" height="9.7"/><rect x="888.31" y="588.02" width="9.7" height="9.7"/><rect x="864.06" y="607.05" width="9.7" height="9.7"/><rect x="865.47" y="609.17" width="9.7" height="9.7"/></g>
<g class="D"><rect x="721.07" y="749.05" width="9.7" height="9.7"/><rect x="762.1" y="717.74" width="9.7" height="9.7"/><rect x="802.57" y="675.44" width="9.7" height="9.7"/><rect x="849.1" y="640.04" width="9.7" height="9.7"/><rect x="1048.36" y="455.19" width="9.7" height="9.7"/><rect x="1018.04" y="465.62" width="9.7" height="9.7"/><rect x="995.48" y="486.21" width="9.7" height="9.7"/><rect x="972.92" y="505.95" width="9.7" height="9.7"/><rect x="958.25" y="514.69" width="9.7" height="9.7"/><rect x="952.19" y="533.45" width="9.7" height="9.7"/><rect x="945.84" y="544.59" width="9.7" height="9.7"/><rect x="915.1" y="564.75" width="9.7" height="9.7"/><rect x="905.94" y="588.72" width="9.7" height="9.7"/></g>
<g class="N"><circle cx="717.17" cy="754.32" r="4.65"/><circle cx="721.4" cy="750.37" r="4.65"/><circle cx="737.2" cy="734.44" r="4.65"/><circle cx="749.61" cy="722.87" r="4.65"/><circle cx="753.55" cy="719.07" r="4.65"/><circle cx="760.18" cy="712.3" r="4.65"/><circle cx="772.17" cy="704.54" r="4.65"/><circle cx="791.49" cy="686.63" r="4.65"/><circle cx="809.96" cy="672.81" r="4.65"/><circle cx="820.11" cy="656.32" r="4.65"/><circle cx="822.93" cy="659.84" r="4.65"/><circle cx="858.89" cy="635.87" r="4.65"/><circle cx="869.47" cy="617.82" r="4.65"/><circle cx="872.99" cy="622.05" r="4.65"/></g>
<g class="K"><rect x="685.53" y="777.95" width="9.7" height="9.7"/><rect x="688.35" y="773.72" width="9.7" height="9.7"/><rect x="696.11" y="768.08" width="9.7" height="9.7"/><rect x="740.95" y="729.3" width="9.7" height="9.7"/><rect x="746.17" y="725.07" width="9.7" height="9.7"/><rect x="757.87" y="710.27" width="9.7" height="9.7"/><rect x="805.11" y="671.49" width="9.7" height="9.7"/><rect x="814.13" y="656.68" width="9.7" height="9.7"/><rect x="822.31" y="648.93" width="9.7" height="9.7"/><rect x="855.73" y="617.62" width="9.7" height="9.7"/><rect x="942.32" y="546.7" width="9.7" height="9.7"/><rect x="902.55" y="572.22" width="9.7" height="9.7"/><rect x="906.36" y="572.51" width="9.7" height="9.7"/><rect x="890.57" y="581.95" width="9.7" height="9.7"/><rect x="869.42" y="603.11" width="9.7" height="9.7"/></g>
<text class="tk" text-anchor="end" x="652.4" y="805.7">0</text><text class="tk" text-anchor="end" x="652.4" y="732.68">10</text><text class="tk" text-anchor="end" x="652.4" y="659.66">20</text><text class="tk" text-anchor="end" x="652.4" y="586.64">30</text><text class="tk" text-anchor="end" x="652.4" y="513.62">40</text><text class="tk" text-anchor="end" x="652.4" y="440.6">50</text>
<text class="tk" text-anchor="middle" x="666.9" y="829.8">0</text><text class="tk" text-anchor="middle" x="745.58" y="829.8">10</text><text class="tk" text-anchor="middle" x="824.27" y="829.8">20</text><text class="tk" text-anchor="middle" x="902.95" y="829.8">30</text><text class="tk" text-anchor="middle" x="981.63" y="829.8">40</text><text class="tk" text-anchor="middle" x="1060.32" y="829.8">50</text><text class="tk" text-anchor="middle" x="1139" y="829.8">60</text>
<text class="ti" x="686" y="477">Without seam/rosin</text>
<text class="pl" x="1090.7" y="506.3">e</text>
</g>
<g id="panel-f">
<path class="gr" d="M1295.98 432.4V799.9M1375.17 432.4V799.9M1454.35 432.4V799.9M1533.53 432.4V799.9M1612.72 432.4V799.9M1216.8 726.4H1691.9M1216.8 652.9H1691.9M1216.8 579.4H1691.9M1216.8 505.9H1691.9"/>
<path class="tm" d="M1295.98 799.9V793.7M1375.17 799.9V793.7M1454.35 799.9V793.7M1533.53 799.9V793.7M1612.72 799.9V793.7M1216.8 726.4H1223M1216.8 652.9H1223M1216.8 579.4H1223M1216.8 505.9H1223"/>
<rect class="fr" x="1216.8" y="432.4" width="475.1" height="367.5"/>
<g class="B"><rect x="1240.4" y="749.75" width="9.7" height="9.7"/><rect x="1246.04" y="727.89" width="9.7" height="9.7"/><rect x="1255.21" y="726.48" width="9.7" height="9.7"/><rect x="1278.48" y="713.09" width="9.7" height="9.7"/><rect x="1282" y="704.63" width="9.7" height="9.7"/><rect x="1292.58" y="684.18" width="9.7" height="9.7"/><rect x="1325.71" y="676" width="9.7" height="9.7"/><rect x="1372.95" y="632.01" width="9.7" height="9.7"/><rect x="1379.3" y="639.76" width="9.7" height="9.7"/><rect x="1369.43" y="621.43" width="9.7" height="9.7"/><rect x="1485.22" y="553.7" width="9.7" height="9.7"/><rect x="1441.37" y="580.78" width="9.7" height="9.7"/><rect x="1460.26" y="594.17" width="9.7" height="9.7"/></g>
<g class="O"><rect x="1226.3" y="749.05" width="9.7" height="9.7"/><rect x="1241.81" y="719.43" width="9.7" height="9.7"/><rect x="1250.7" y="705.61" width="9.7" height="9.7"/><rect x="1303.15" y="640.47" width="9.7" height="9.7"/><rect x="1336.29" y="609.44" width="9.7" height="9.7"/><rect x="1467.31" y="473.61" width="9.7" height="9.7"/><rect x="1427.12" y="503.22" width="9.7" height="9.7"/><rect x="1467.31" y="507.17" width="9.7" height="9.7"/><rect x="1449.97" y="511.68" width="9.7" height="9.7"/><rect x="1421.91" y="513.09" width="9.7" height="9.7"/><rect x="1425.43" y="518.73" width="9.7" height="9.7"/><rect x="1432.76" y="530.01" width="9.7" height="9.7"/><rect x="1405.55" y="539.89" width="9.7" height="9.7"/><rect x="1409.07" y="547.92" width="9.7" height="9.7"/><rect x="1342.52" y="580.07" width="9.7" height="9.7"/></g>
<g class="G"><rect x="1231.24" y="756.1" width="9.7" height="9.7"/><rect x="1233.35" y="745.52" width="9.7" height="9.7"/><rect x="1254.22" y="716.61" width="9.7" height="9.7"/><rect x="1254.5" y="721.55" width="9.7" height="9.7"/><rect x="1293.99" y="666.55" width="9.7" height="9.7"/><rect x="1315.56" y="644.42" width="9.7" height="9.7"/><rect x="1310.2" y="631.3" width="9.7" height="9.7"/><rect x="1363.08" y="625.66" width="9.7" height="9.7"/><rect x="1384.94" y="612.27" width="9.7" height="9.7"/><rect x="1370.44" y="565.69" width="9.7" height="9.7"/><rect x="1389.47" y="574.72" width="9.7" height="9.7"/><rect x="1367.62" y="593.75" width="9.7" height="9.7"/></g>
<g class="Y"><rect x="1263.67" y="698.99" width="9.7" height="9.7"/><rect x="1267.9" y="702.51" width="9.7" height="9.7"/><rect x="1261.55" y="707.45" width="9.7" height="9.7"/><rect x="1282" y="687" width="9.7" height="9.7"/><rect x="1300.33" y="669.37" width="9.7" height="9.7"/><rect x="1304.99" y="671.49" width="9.7" height="9.7"/><rect x="1319.37" y="649.63" width="9.7" height="9.7"/><rect x="1327.83" y="655.27" width="9.7" height="9.7"/><rect x="1313.02" y="634.83" width="9.7" height="9.7"/><rect x="1346.87" y="627.07" width="9.7" height="9.7"/><rect x="1355.33" y="626.37" width="9.7" height="9.7"/><rect x="1347.57" y="615.79" width="9.7" height="9.7"/><rect x="1456.31" y="564.84" width="9.7" height="9.7"/><rect x="1393.7" y="599.11" width="9.7" height="9.7"/></g>
<g class="L"><rect x="1267.19" y="707.45" width="9.7" height="9.7"/><rect x="1272.55" y="711.68" width="9.7" height="9.7"/><rect x="1284.12" y="692.64" width="9.7" height="9.7"/><rect x="1294.69" y="672.9" width="9.7" height="9.7"/><rect x="1341.65" y="678.96" width="9.7" height="9.7"/><rect x="1325.01" y="651.75" width="9.7" height="9.7"/><rect x="1335.16" y="640.19" width="9.7" height="9.7"/><rect x="1348.98" y="635.95" width="9.7" height="9.7"/><rect x="1356.03" y="642.86" width="9.7" height="9.7"/><rect x="1410.32" y="615.79" width="9.7" height="9.7"/><rect x="1414.97" y="616.92" width="9.7" height="9.7"/><rect x="1434.46" y="555.68" width="9.7" height="9.7"/><rect x="1410.91" y="573.02" width="9.7" height="9.7"/><rect x="1391.17" y="590.65" width="9.7" height="9.7"/><rect x="1386.65" y="604.47" width="9.7" height="9.7"/></g>
<g class="R"><rect x="1223.48" y="766.39" width="9.7" height="9.7"/><rect x="1236.88" y="757.51" width="9.7" height="9.7"/><rect x="1262.68" y="715.2" width="9.7" height="9.7"/><rect x="1271.14" y="720.84" width="9.7" height="9.7"/><rect x="1292.58" y="694.33" width="9.7" height="9.7"/><rect x="1306.25" y="699.27" width="9.7" height="9.7"/><rect x="1374.36" y="665.14" width="9.7" height="9.7"/><rect x="1324.73" y="650.76" width="9.7" height="9.7"/><rect x="1376.48" y="631.3" width="9.7" height="9.7"/><rect x="1374.79" y="612.27" width="9.7" height="9.7"/><rect x="1452.51" y="549.33" width="9.7" height="9.7"/><rect x="1467.31" y="582.19" width="9.7" height="9.7"/><rect x="1485.22" y="605.88" width="9.7" height="9.7"/></g>
<g class="D"><rect x="1256.9" y="702.79" width="9.7" height="9.7"/><rect x="1285.95" y="665.14" width="9.7" height="9.7"/><rect x="1294.69" y="641.45" width="9.7" height="9.7"/><rect x="1326.14" y="612.27" width="9.7" height="9.7"/><rect x="1464.91" y="470.79" width="9.7" height="9.7"/><rect x="1457.44" y="495.89" width="9.7" height="9.7"/><rect x="1466.33" y="494.48" width="9.7" height="9.7"/><rect x="1407.81" y="521.13" width="9.7" height="9.7"/><rect x="1401.74" y="530.72" width="9.7" height="9.7"/><rect x="1521.15" y="436.19" width="9.7" height="9.7"/><rect x="1535.97" y="437.72" width="9.7" height="9.7"/><rect x="1563.01" y="443.06" width="9.7" height="9.7"/><rect x="1541.78" y="459.87" width="9.7" height="9.7"/><rect x="1481.13" y="457.88" width="9.7" height="9.7"/><rect x="1492.13" y="463.69" width="9.7" height="9.7"/></g>
<g class="N"><rect x="1234.76" y="754.69" width="9.7" height="9.7"/><rect x="1245.76" y="741.29" width="9.7" height="9.7"/><rect x="1260.14" y="725.07" width="9.7" height="9.7"/><rect x="1285.81" y="693.35" width="9.7" height="9.7"/><rect x="1291.87" y="679.95" width="9.7" height="9.7"/><rect x="1296.81" y="681.36" width="9.7" height="9.7"/><rect x="1303.15" y="686.72" width="9.7" height="9.7"/><rect x="1314.86" y="667.26" width="9.7" height="9.7"/><rect x="1319.09" y="658.09" width="9.7" height="9.7"/><rect x="1331.07" y="651.04" width="9.7" height="9.7"/><rect x="1326.84" y="641.88" width="9.7" height="9.7"/><rect x="1363.08" y="618.61" width="9.7" height="9.7"/><rect x="1360.26" y="612.97" width="9.7" height="9.7"/><rect x="1385.95" y="591.07" width="9.7" height="9.7"/><rect x="1318.55" y="654.81" width="9.7" height="9.7"/></g>
<g class="K"><rect x="1244.63" y="730.01" width="9.7" height="9.7"/><rect x="1247.45" y="735.23" width="9.7" height="9.7"/><rect x="1285.1" y="702.79" width="9.7" height="9.7"/><rect x="1290.46" y="667.54" width="9.7" height="9.7"/><rect x="1460.54" y="481.37" width="9.7" height="9.7"/><rect x="1412.04" y="511.68" width="9.7" height="9.7"/><rect x="1404.99" y="544.82" width="9.7" height="9.7"/><rect x="1375.8" y="552.01" width="9.7" height="9.7"/><rect x="1345.48" y="586.14" width="9.7" height="9.7"/><rect x="1372.41" y="601.23" width="9.7" height="9.7"/></g>
<text class="tk" text-anchor="end" x="1199.1" y="806.5">0</text><text class="tk" text-anchor="end" x="1199.1" y="733">10</text><text class="tk" text-anchor="end" x="1199.1" y="659.5">20</text><text class="tk" text-anchor="end" x="1199.1" y="586">30</text><text class="tk" text-anchor="end" x="1199.1" y="512.5">40</text><text class="tk" text-anchor="end" x="1199.1" y="439">50</text>
<text class="tk" text-anchor="middle" x="1213.8" y="830.6">0</text><text class="tk" text-anchor="middle" x="1292.98" y="830.6">10</text><text class="tk" text-anchor="middle" x="1372.17" y="830.6">20</text><text class="tk" text-anchor="middle" x="1451.35" y="830.6">30</text><text class="tk" text-anchor="middle" x="1530.53" y="830.6">40</text><text class="tk" text-anchor="middle" x="1609.72" y="830.6">50</text><text class="tk" text-anchor="middle" x="1688.9" y="830.6">60</text>
<text class="ti" x="1414" y="737.8">Without seam/</text>
<text class="ti" x="1414" y="779.4">sticky substance</text>
<text class="pl" x="1646.2" y="502.5">f</text>
</g>
<g id="panel-g">
<path class="gr" d="M203.05 975.3V1337.1M281.4 975.3V1337.1M359.75 975.3V1337.1M438.1 975.3V1337.1M516.45 975.3V1337.1M124.7 1246.65H594.8M124.7 1156.2H594.8M124.7 1065.75H594.8"/>
<path class="tm" d="M203.05 1337.1V1330.9M281.4 1337.1V1330.9M359.75 1337.1V1330.9M438.1 1337.1V1330.9M516.45 1337.1V1330.9M124.7 1246.65H130.9M124.7 1156.2H130.9M124.7 1065.75H130.9"/>
<rect class="fr" x="124.7" y="975.3" width="470.1" height="361.8"/>
<g class="B"><circle cx="160.47" cy="1162.49" r="4.65"/><circle cx="164.42" cy="1187.02" r="4.65"/><circle cx="205.03" cy="1190.26" r="4.65"/><circle cx="201.08" cy="1202.39" r="4.65"/><circle cx="206.72" cy="1204.65" r="4.65"/><circle cx="251.7" cy="1207.61" r="4.65"/><circle cx="263.69" cy="1214.24" r="4.65"/><circle cx="279.34" cy="1211.27" r="4.65"/><circle cx="289.92" cy="1214.52" r="4.65"/><circle cx="316" cy="1216.63" r="4.65"/><circle cx="331.52" cy="1229.32" r="4.65"/><circle cx="375.56" cy="1237.69" r="4.65"/><circle cx="416.25" cy="1234.6" r="4.65"/><circle cx="431.96" cy="1237.1" r="4.65"/><circle cx="463.69" cy="1243.56" r="4.65"/></g>
<g class="O"><circle cx="179.51" cy="1271.63" r="4.65"/><circle cx="256.08" cy="1248.64" r="4.65"/><circle cx="270.88" cy="1239.48" r="4.65"/><circle cx="276.8" cy="1245.12" r="4.65"/><circle cx="289.92" cy="1252.87" r="4.65"/><circle cx="329.82" cy="1246.53" r="4.65"/><circle cx="327.29" cy="1251.75" r="4.65"/><circle cx="340.26" cy="1251.46" r="4.65"/><circle cx="383.05" cy="1248.7" r="4.65"/><circle cx="361.75" cy="1256.93" r="4.65"/><circle cx="376.88" cy="1259.57" r="4.65"/><circle cx="378.2" cy="1261.77" r="4.65"/><circle cx="396.12" cy="1262.51" r="4.65"/></g>
<g class="G"><circle cx="177.53" cy="1278.25" r="4.65"/><circle cx="171.47" cy="1284.88" r="4.65"/><circle cx="176.4" cy="1284.6" r="4.65"/><circle cx="236.76" cy="1286.43" r="4.65"/><circle cx="244.79" cy="1286.43" r="4.65"/><circle cx="243.67" cy="1288.83" r="4.65"/><circle cx="262.14" cy="1289.82" r="4.65"/><circle cx="285.26" cy="1286.01" r="4.65"/><circle cx="290.62" cy="1283.19" r="4.65"/><circle cx="299.51" cy="1285.02" r="4.65"/><circle cx="322.63" cy="1283.9" r="4.65"/><circle cx="403.17" cy="1290.71" r="4.65"/><circle cx="427.26" cy="1292.47" r="4.65"/><circle cx="457.08" cy="1287.92" r="4.65"/></g>
<g class="Y"><circle cx="168.65" cy="1264.86" r="4.65"/><circle cx="178.94" cy="1273.6" r="4.65"/><circle cx="166.67" cy="1278.4" r="4.65"/><circle cx="207.71" cy="1267.26" r="4.65"/><circle cx="217.3" cy="1263.73" r="4.65"/><circle cx="226.04" cy="1269.37" r="4.65"/><circle cx="232.53" cy="1274.02" r="4.65"/><circle cx="244.09" cy="1265.56" r="4.65"/><circle cx="299.79" cy="1270.92" r="4.65"/><circle cx="285.26" cy="1280.65" r="4.65"/><circle cx="292.31" cy="1278.25" r="4.65"/><circle cx="306.13" cy="1277.97" r="4.65"/><circle cx="311.77" cy="1279.67" r="4.65"/><circle cx="315.3" cy="1275.43" r="4.65"/><circle cx="336.45" cy="1281.5" r="4.65"/></g>
<g class="L"><circle cx="162.44" cy="1193.93" r="4.65"/><circle cx="185.71" cy="1208.88" r="4.65"/><circle cx="215.46" cy="1218.33" r="4.65"/><circle cx="230.41" cy="1219.45" r="4.65"/><circle cx="185.15" cy="1222.98" r="4.65"/><circle cx="197.84" cy="1223.97" r="4.65"/><circle cx="258.9" cy="1232.57" r="4.65"/><circle cx="270.18" cy="1231.3" r="4.65"/><circle cx="275.82" cy="1227.49" r="4.65"/><circle cx="283.85" cy="1230.03" r="4.65"/><circle cx="290.62" cy="1238.77" r="4.65"/><circle cx="298.8" cy="1239.05" r="4.65"/><circle cx="294.85" cy="1245.12" r="4.65"/><circle cx="313.89" cy="1242.02" r="4.65"/><circle cx="317.7" cy="1238.77" r="4.65"/></g>
<g class="R"><circle cx="156.8" cy="1227.91" r="4.65"/><circle cx="142.14" cy="1253.3" r="4.65"/><circle cx="150.04" cy="1268.38" r="4.65"/><circle cx="182.75" cy="1253.16" r="4.65"/><circle cx="187.97" cy="1253.16" r="4.65"/><circle cx="209.82" cy="1240.61" r="4.65"/><circle cx="206.02" cy="1245.12" r="4.65"/><circle cx="220.12" cy="1249.35" r="4.65"/><circle cx="251.14" cy="1243.28" r="4.65"/><circle cx="250.43" cy="1251.46" r="4.65"/><circle cx="288.51" cy="1248.36" r="4.65"/><circle cx="355.21" cy="1258.09" r="4.65"/><circle cx="415.66" cy="1252.08" r="4.65"/><circle cx="383.05" cy="1258.1" r="4.65"/></g>
<g class="D"><circle cx="221.25" cy="1255.83" r="4.65"/><circle cx="204.18" cy="1278.96" r="4.65"/><circle cx="260.16" cy="1277.97" r="4.65"/><circle cx="269.05" cy="1273.32" r="4.65"/><circle cx="299.08" cy="1263.45" r="4.65"/><circle cx="315.3" cy="1277.55" r="4.65"/><circle cx="347.73" cy="1270.22" r="4.65"/><circle cx="351.26" cy="1271.2" r="4.65"/><circle cx="361.31" cy="1263.39" r="4.65"/><circle cx="412.87" cy="1267.36" r="4.65"/><circle cx="446.06" cy="1269.85" r="4.65"/><circle cx="453.7" cy="1270.88" r="4.65"/><circle cx="458.7" cy="1275.73" r="4.65"/><circle cx="480.14" cy="1274.55" r="4.65"/><circle cx="518.48" cy="1277.64" r="4.65"/></g>
<g class="N"><circle cx="177.11" cy="1232.43" r="4.65"/><circle cx="174.99" cy="1238.35" r="4.65"/><circle cx="191.49" cy="1233.55" r="4.65"/><circle cx="193.89" cy="1242.3" r="4.65"/><circle cx="218.71" cy="1243.28" r="4.65"/><circle cx="214.2" cy="1250.05" r="4.65"/><circle cx="208.55" cy="1255.69" r="4.65"/><circle cx="243.81" cy="1260.91" r="4.65"/><circle cx="243.81" cy="1249.63" r="4.65"/><circle cx="268.06" cy="1266.69" r="4.65"/><circle cx="273.98" cy="1256.4" r="4.65"/><circle cx="284.28" cy="1261.33" r="4.65"/><circle cx="298.38" cy="1262.04" r="4.65"/><circle cx="296.55" cy="1265.56" r="4.65"/><circle cx="337.16" cy="1265.99" r="4.65"/></g>
<g class="K"><circle cx="158.78" cy="1245.82" r="4.65"/><circle cx="204.89" cy="1252.45" r="4.65"/><circle cx="167.1" cy="1268.53" r="4.65"/><circle cx="235.35" cy="1261.47" r="4.65"/><circle cx="243.81" cy="1252.17" r="4.65"/><circle cx="255.37" cy="1253.72" r="4.65"/><circle cx="277.93" cy="1251.46" r="4.65"/><circle cx="284" cy="1250.05" r="4.65"/><circle cx="294.43" cy="1260.35" r="4.65"/><circle cx="316" cy="1252.59" r="4.65"/><circle cx="312.06" cy="1264.44" r="4.65"/><circle cx="334.05" cy="1258.51" r="4.65"/><circle cx="335.04" cy="1260.63" r="4.65"/><circle cx="386.28" cy="1257.96" r="4.65"/></g>
<text class="tk" text-anchor="end" x="101.7" y="1343.7">0.0</text><text class="tk" text-anchor="end" x="101.7" y="1253.25">1.0</text><text class="tk" text-anchor="end" x="101.7" y="1162.8">2.0</text><text class="tk" text-anchor="end" x="101.7" y="1072.35">3.0</text><text class="tk" text-anchor="end" x="101.7" y="981.9">4.0</text>
<text class="tk" text-anchor="middle" x="121.7" y="1367.8">0</text><text class="tk" text-anchor="middle" x="200.05" y="1367.8">10</text><text class="tk" text-anchor="middle" x="278.4" y="1367.8">20</text><text class="tk" text-anchor="middle" x="356.75" y="1367.8">30</text><text class="tk" text-anchor="middle" x="435.1" y="1367.8">40</text><text class="tk" text-anchor="middle" x="513.45" y="1367.8">50</text><text class="tk" text-anchor="middle" x="591.8" y="1367.8">60</text>
<text class="ti" x="137" y="1018.6">With seam/no-application</text>
<text class="pl" x="544" y="1048.6">g</text>
</g>
<g id="panel-h">
<path class="gr" d="M741.83 974.4V1334.2M821.47 974.4V1334.2M901.1 974.4V1334.2M980.73 974.4V1334.2M1060.37 974.4V1334.2M662.2 1244.25H1140M662.2 1154.3H1140M662.2 1064.35H1140"/>
<path class="tm" d="M741.83 1334.2V1328M821.47 1334.2V1328M901.1 1334.2V1328M980.73 1334.2V1328M1060.37 1334.2V1328M662.2 1244.25H668.4M662.2 1154.3H668.4M662.2 1064.35H668.4"/>
<rect class="fr" x="662.2" y="974.4" width="477.8" height="359.8"/>
<g class="B"><circle cx="687.43" cy="1217.65" r="4.65"/><circle cx="686.02" cy="1224.42" r="4.65"/><circle cx="680.38" cy="1234.99" r="4.65"/><circle cx="706.47" cy="1223.01" r="4.65"/><circle cx="730.44" cy="1221.6" r="4.65"/><circle cx="793.19" cy="1215.25" r="4.65"/><circle cx="795.31" cy="1218.78" r="4.65"/><circle cx="828.16" cy="1218.78" r="4.65"/><circle cx="877.09" cy="1224.7" r="4.65"/><circle cx="930.76" cy="1224.42" r="4.65"/><circle cx="933.14" cy="1225.69" r="4.65"/></g>
<g class="O"><circle cx="704.07" cy="1241.34" r="4.65"/><circle cx="709.99" cy="1211.73" r="4.65"/><circle cx="762.87" cy="1210.04" r="4.65"/><circle cx="765.41" cy="1232.46" r="4.65"/><circle cx="801.37" cy="1216.66" r="4.65"/><circle cx="817.16" cy="1222.73" r="4.65"/><circle cx="857.35" cy="1234.99" r="4.65"/><circle cx="869.34" cy="1231.47" r="4.65"/><circle cx="876.39" cy="1240.35" r="4.65"/><circle cx="895.07" cy="1239.49" r="4.65"/><circle cx="907.76" cy="1241.08" r="4.65"/><circle cx="913" cy="1239.81" r="4.65"/></g>
<g class="G"><circle cx="684.61" cy="1239.22" r="4.65"/><circle cx="691.94" cy="1246.98" r="4.65"/><circle cx="696.6" cy="1247.97" r="4.65"/><circle cx="719.16" cy="1237.81" r="4.65"/><circle cx="731.15" cy="1239.22" r="4.65"/><circle cx="753.71" cy="1236.69" r="4.65"/><circle cx="788.96" cy="1241.34" r="4.65"/><circle cx="808.7" cy="1237.81" r="4.65"/><circle cx="842.54" cy="1239.93" r="4.65"/><circle cx="835.07" cy="1250.51" r="4.65"/><circle cx="859.75" cy="1261.08" r="4.65"/><circle cx="915.22" cy="1245.83" r="4.65"/><circle cx="922.04" cy="1248.21" r="4.65"/><circle cx="937.11" cy="1262.17" r="4.65"/></g>
<g class="Y"><circle cx="706.47" cy="1229.35" r="4.65"/><circle cx="722.97" cy="1222.3" r="4.65"/><circle cx="745.95" cy="1211.73" r="4.65"/><circle cx="733.97" cy="1226.53" r="4.65"/><circle cx="781.63" cy="1223.43" r="4.65"/><circle cx="792.49" cy="1225.83" r="4.65"/><circle cx="796.01" cy="1227.66" r="4.65"/><circle cx="806.59" cy="1228.65" r="4.65"/><circle cx="827.74" cy="1234.57" r="4.65"/><circle cx="834.79" cy="1234.29" r="4.65"/><circle cx="839.02" cy="1232.88" r="4.65"/><circle cx="853.82" cy="1235.7" r="4.65"/><circle cx="858.06" cy="1245.57" r="4.65"/></g>
<g class="L"><circle cx="705.06" cy="1219.06" r="4.65"/><circle cx="712.11" cy="1221.88" r="4.65"/><circle cx="737.91" cy="1241.76" r="4.65"/><circle cx="759.35" cy="1221.6" r="4.65"/><circle cx="770.63" cy="1211.73" r="4.65"/><circle cx="776.27" cy="1210.6" r="4.65"/><circle cx="772.04" cy="1220.89" r="4.65"/><circle cx="808.28" cy="1219.76" r="4.65"/><circle cx="819.98" cy="1224.42" r="4.65"/><circle cx="828.44" cy="1220.89" r="4.65"/><circle cx="839.02" cy="1220.19" r="4.65"/><circle cx="848.89" cy="1226.53" r="4.65"/><circle cx="858.06" cy="1222.73" r="4.65"/><circle cx="864.68" cy="1232.46" r="4.65"/></g>
<g class="R"><circle cx="679.68" cy="1222.3" r="4.65"/><circle cx="679.68" cy="1230.06" r="4.65"/><circle cx="700.55" cy="1236.12" r="4.65"/><circle cx="713.52" cy="1228.93" r="4.65"/><circle cx="728.61" cy="1222.73" r="4.65"/><circle cx="741.02" cy="1219.48" r="4.65"/><circle cx="761.75" cy="1214.97" r="4.65"/><circle cx="760.48" cy="1217.37" r="4.65"/><circle cx="846.07" cy="1229.07" r="4.65"/><circle cx="853.82" cy="1225.12" r="4.65"/><circle cx="895.86" cy="1233.46" r="4.65"/></g>
<g class="D"><circle cx="731.15" cy="1231.75" r="4.65"/><circle cx="739.89" cy="1237.39" r="4.65"/><circle cx="759.77" cy="1239.51" r="4.65"/><circle cx="812.23" cy="1241.34" r="4.65"/><circle cx="849.59" cy="1238.1" r="4.65"/><circle cx="890.79" cy="1242.34" r="4.65"/><circle cx="906.49" cy="1243.77" r="4.65"/><circle cx="922.83" cy="1242.66" r="4.65"/><circle cx="926" cy="1248.53" r="4.65"/><circle cx="961.38" cy="1241.55" r="4.65"/><circle cx="968.52" cy="1240.28" r="4.65"/><circle cx="966.77" cy="1253.77" r="4.65"/><circle cx="989.14" cy="1245.04" r="4.65"/><circle cx="996.12" cy="1248.21" r="4.65"/></g>
<g class="N"><circle cx="707.17" cy="1211.3" r="4.65"/><circle cx="709.01" cy="1232.88" r="4.65"/><circle cx="723.39" cy="1230.48" r="4.65"/><circle cx="738.9" cy="1224.42" r="4.65"/><circle cx="745.25" cy="1219.48" r="4.65"/><circle cx="750.46" cy="1216.38" r="4.65"/><circle cx="752.3" cy="1223.71" r="4.65"/><circle cx="772.32" cy="1236.4" r="4.65"/><circle cx="780.5" cy="1233.58" r="4.65"/><circle cx="781.91" cy="1239.22" r="4.65"/><circle cx="784.73" cy="1241.06" r="4.65"/><circle cx="799.11" cy="1237.81" r="4.65"/><circle cx="823.51" cy="1234.57" r="4.65"/><circle cx="836.2" cy="1242.04" r="4.65"/><circle cx="864.4" cy="1243.45" r="4.65"/></g>
<g class="K"><circle cx="683.48" cy="1223.01" r="4.65"/><circle cx="679.68" cy="1240.92" r="4.65"/><circle cx="689.55" cy="1239.93" r="4.65"/><circle cx="738.62" cy="1214.12" r="4.65"/><circle cx="746.66" cy="1229.35" r="4.65"/><circle cx="756.25" cy="1225.83" r="4.65"/><circle cx="776.69" cy="1229.35" r="4.65"/><circle cx="797.7" cy="1234.29" r="4.65"/><circle cx="809.69" cy="1233.58" r="4.65"/><circle cx="838.31" cy="1239.93" r="4.65"/><circle cx="854.53" cy="1239.93" r="4.65"/><circle cx="858.06" cy="1239.93" r="4.65"/><circle cx="866.94" cy="1241.34" r="4.65"/><circle cx="873.57" cy="1241.34" r="4.65"/><circle cx="894.59" cy="1242.19" r="4.65"/></g>
<text class="tk" text-anchor="end" x="638.9" y="1340.8">0.0</text><text class="tk" text-anchor="end" x="638.9" y="1250.85">1.0</text><text class="tk" text-anchor="end" x="638.9" y="1160.9">2.0</text><text class="tk" text-anchor="end" x="638.9" y="1070.95">3.0</text><text class="tk" text-anchor="end" x="638.9" y="981">4.0</text>
<text class="tk" text-anchor="middle" x="659.2" y="1364.9">0</text><text class="tk" text-anchor="middle" x="738.83" y="1364.9">10</text><text class="tk" text-anchor="middle" x="818.47" y="1364.9">20</text><text class="tk" text-anchor="middle" x="898.1" y="1364.9">30</text><text class="tk" text-anchor="middle" x="977.73" y="1364.9">40</text><text class="tk" text-anchor="middle" x="1057.37" y="1364.9">50</text><text class="tk" text-anchor="middle" x="1137" y="1364.9">60</text>
<text class="ti" x="689" y="1016">With seam/rosin</text>
<text class="pl" x="1094.7" y="1045.6">h</text>
</g>
<g id="panel-i">
<path class="gr" d="M1293.52 971V1335.7M1373.03 971V1335.7M1452.55 971V1335.7M1532.07 971V1335.7M1611.58 971V1335.7M1214 1244.53H1691.1M1214 1153.35H1691.1M1214 1062.17H1691.1"/>
<path class="tm" d="M1293.52 1335.7V1329.5M1373.03 1335.7V1329.5M1452.55 1335.7V1329.5M1532.07 1335.7V1329.5M1611.58 1335.7V1329.5M1214 1244.53H1220.2M1214 1153.35H1220.2M1214 1062.17H1220.2"/>
<rect class="fr" x="1214" y="971" width="477.1" height="364.7"/>
<g class="B"><circle cx="1242.79" cy="1125.19" r="4.65"/><circle cx="1250.12" cy="1144.93" r="4.65"/><circle cx="1262.81" cy="1162.27" r="4.65"/><circle cx="1274.8" cy="1173.13" r="4.65"/><circle cx="1271.27" cy="1187.94" r="4.65"/><circle cx="1281.15" cy="1197.81" r="4.65"/><circle cx="1302.3" cy="1186.1" r="4.65"/><circle cx="1309.35" cy="1214.73" r="4.65"/><circle cx="1320.63" cy="1204.15" r="4.65"/><circle cx="1370.41" cy="1231.23" r="4.65"/><circle cx="1391.42" cy="1229.96" r="4.65"/><circle cx="1403.82" cy="1223.9" r="4.65"/><circle cx="1440.77" cy="1241.1" r="4.65"/><circle cx="1459.19" cy="1231.95" r="4.65"/><circle cx="1469.06" cy="1245.91" r="4.65"/></g>
<g class="O"><circle cx="1241.38" cy="1101.22" r="4.65"/><circle cx="1250.12" cy="1103.75" r="4.65"/><circle cx="1267.75" cy="1129.42" r="4.65"/><circle cx="1302.58" cy="1170.59" r="4.65"/><circle cx="1321.33" cy="1171.02" r="4.65"/><circle cx="1327.68" cy="1175.95" r="4.65"/><circle cx="1357.29" cy="1190.05" r="4.65"/><circle cx="1377.03" cy="1197.81" r="4.65"/><circle cx="1388.31" cy="1200.21" r="4.65"/><circle cx="1399.17" cy="1197.81" r="4.65"/><circle cx="1402.13" cy="1202.74" r="4.65"/><circle cx="1413.41" cy="1201.62" r="4.65"/><circle cx="1423.28" cy="1202.04" r="4.65"/><circle cx="1432.73" cy="1204.15" r="4.65"/><circle cx="1440.21" cy="1206.97" r="4.65"/></g>
<g class="G"><circle cx="1233.91" cy="1127.3" r="4.65"/><circle cx="1257.46" cy="1140.7" r="4.65"/><circle cx="1261.4" cy="1157.62" r="4.65"/><circle cx="1258.58" cy="1173.84" r="4.65"/><circle cx="1294.54" cy="1183.71" r="4.65"/><circle cx="1314.99" cy="1187.23" r="4.65"/><circle cx="1330.5" cy="1210.5" r="4.65"/><circle cx="1331.91" cy="1219.67" r="4.65"/><circle cx="1349.96" cy="1221.08" r="4.65"/><circle cx="1349.54" cy="1223.19" r="4.65"/><circle cx="1367.16" cy="1211.91" r="4.65"/><circle cx="1378.73" cy="1235.6" r="4.65"/><circle cx="1405.94" cy="1233.77" r="4.65"/></g>
<g class="Y"><circle cx="1250.12" cy="1152.26" r="4.65"/><circle cx="1286.79" cy="1169.61" r="4.65"/><circle cx="1281.85" cy="1174.54" r="4.65"/><circle cx="1303.71" cy="1190.05" r="4.65"/><circle cx="1315.41" cy="1196.4" r="4.65"/><circle cx="1302.3" cy="1201.33" r="4.65"/><circle cx="1321.33" cy="1209.79" r="4.65"/><circle cx="1332.61" cy="1207.68" r="4.65"/><circle cx="1370.26" cy="1221.5" r="4.65"/><circle cx="1385.49" cy="1223.9" r="4.65"/><circle cx="1396.07" cy="1223.19" r="4.65"/><circle cx="1431.04" cy="1224.6" r="4.65"/><circle cx="1444.01" cy="1231.23" r="4.65"/></g>
<g class="L"><circle cx="1267.75" cy="1162.84" r="4.65"/><circle cx="1278.61" cy="1163.26" r="4.65"/><circle cx="1293.13" cy="1180.89" r="4.65"/><circle cx="1323.45" cy="1208.38" r="4.65"/><circle cx="1334.02" cy="1205.14" r="4.65"/><circle cx="1340.37" cy="1194.57" r="4.65"/><circle cx="1352.36" cy="1205.56" r="4.65"/><circle cx="1372.38" cy="1213.32" r="4.65"/><circle cx="1369.28" cy="1216.14" r="4.65"/><circle cx="1390.15" cy="1218.96" r="4.65"/><circle cx="1400.3" cy="1223.9" r="4.65"/><circle cx="1413.27" cy="1210.5" r="4.65"/><circle cx="1427.37" cy="1223.47" r="4.65"/></g>
<g class="R"><circle cx="1245.61" cy="1106.86" r="4.65"/><circle cx="1236.3" cy="1126.88" r="4.65"/><circle cx="1259.99" cy="1145.21" r="4.65"/><circle cx="1288.62" cy="1163.26" r="4.65"/><circle cx="1285.38" cy="1187.23" r="4.65"/><circle cx="1312.87" cy="1187.23" r="4.65"/><circle cx="1326.97" cy="1207.68" r="4.65"/><circle cx="1351.65" cy="1194.99" r="4.65"/><circle cx="1367.44" cy="1205.14" r="4.65"/><circle cx="1396.35" cy="1236.59" r="4.65"/><circle cx="1218.82" cy="989.27" r="4.65"/><circle cx="1225.81" cy="1066.75" r="4.65"/><circle cx="1458.2" cy="1220.25" r="4.65"/><circle cx="1481.47" cy="1231.1" r="4.65"/><circle cx="1482.88" cy="1241.12" r="4.65"/></g>
<g class="D"><circle cx="1320.91" cy="1162.27" r="4.65"/><circle cx="1337.55" cy="1181.17" r="4.65"/><circle cx="1340.65" cy="1180.61" r="4.65"/><circle cx="1308.64" cy="1194" r="4.65"/><circle cx="1358" cy="1195.69" r="4.65"/><circle cx="1378.3" cy="1202.04" r="4.65"/><circle cx="1432.03" cy="1214.02" r="4.65"/><circle cx="1438.37" cy="1210.5" r="4.65"/><circle cx="1446.64" cy="1200.22" r="4.65"/><circle cx="1452.56" cy="1202.2" r="4.65"/><circle cx="1457.07" cy="1203.75" r="4.65"/><circle cx="1490.21" cy="1220.95" r="4.65"/><circle cx="1539" cy="1227.86" r="4.65"/><circle cx="1486.83" cy="1235.48" r="4.65"/><circle cx="1470.75" cy="1252.4" r="4.65"/></g>
<g class="N"><circle cx="1243.35" cy="1128.29" r="4.65"/><circle cx="1237.57" cy="1139.01" r="4.65"/><circle cx="1275.51" cy="1171.44" r="4.65"/><circle cx="1281.15" cy="1169.61" r="4.65"/><circle cx="1289.61" cy="1174.12" r="4.65"/><circle cx="1281.85" cy="1180.46" r="4.65"/><circle cx="1288.9" cy="1184.84" r="4.65"/><circle cx="1299.2" cy="1168.48" r="4.65"/><circle cx="1299.2" cy="1170.73" r="4.65"/><circle cx="1279.31" cy="1191.75" r="4.65"/><circle cx="1308.64" cy="1184.41" r="4.65"/><circle cx="1345.31" cy="1201.33" r="4.65"/><circle cx="1353.77" cy="1196.82" r="4.65"/><circle cx="1355.6" cy="1196.4" r="4.65"/><circle cx="1231.49" cy="1063.95" r="4.65"/></g>
<g class="K"><circle cx="1253.65" cy="1142.81" r="4.65"/><circle cx="1252.94" cy="1168.2" r="4.65"/><circle cx="1243.78" cy="1193.58" r="4.65"/><circle cx="1309.49" cy="1181.59" r="4.65"/><circle cx="1330.78" cy="1198.09" r="4.65"/><circle cx="1345.02" cy="1204.86" r="4.65"/><circle cx="1362.51" cy="1199.22" r="4.65"/><circle cx="1373.51" cy="1184.13" r="4.65"/><circle cx="1384.08" cy="1209.37" r="4.65"/><circle cx="1368.15" cy="1219.67" r="4.65"/><circle cx="1409.47" cy="1221.5" r="4.65"/><circle cx="1415.81" cy="1216.84" r="4.65"/><circle cx="1423.99" cy="1205.85" r="4.65"/><circle cx="1432.45" cy="1236.3" r="4.65"/><circle cx="1452.28" cy="1230.82" r="4.65"/></g>
<text class="tk" text-anchor="end" x="1190.7" y="1342.3">0.0</text><text class="tk" text-anchor="end" x="1190.7" y="1251.12">1.0</text><text class="tk" text-anchor="end" x="1190.7" y="1159.95">2.0</text><text class="tk" text-anchor="end" x="1190.7" y="1068.77">3.0</text><text class="tk" text-anchor="end" x="1190.7" y="977.6">4.0</text>
<text class="tk" text-anchor="middle" x="1211" y="1366.4">0</text><text class="tk" text-anchor="middle" x="1290.52" y="1366.4">10</text><text class="tk" text-anchor="middle" x="1370.03" y="1366.4">20</text><text class="tk" text-anchor="middle" x="1449.55" y="1366.4">30</text><text class="tk" text-anchor="middle" x="1529.07" y="1366.4">40</text><text class="tk" text-anchor="middle" x="1608.58" y="1366.4">50</text><text class="tk" text-anchor="middle" x="1688.1" y="1366.4">60</text>
<text class="ti" x="1257" y="1009">With seam/</text>
<text class="ti" x="1257" y="1049.6">sticky substance</text>
<text class="pl" x="1650.2" y="1045.9">i</text>
</g>
<g id="panel-j">
<path class="gr" d="M203.67 1389V1750.6M282.53 1389V1750.6M361.4 1389V1750.6M440.27 1389V1750.6M519.13 1389V1750.6M124.8 1660.2H598M124.8 1569.8H598M124.8 1479.4H598"/>
<path class="tm" d="M203.67 1750.6V1744.4M282.53 1750.6V1744.4M361.4 1750.6V1744.4M440.27 1750.6V1744.4M519.13 1750.6V1744.4M124.8 1660.2H131M124.8 1569.8H131M124.8 1479.4H131"/>
<rect class="fr" x="124.8" y="1389" width="473.2" height="361.6"/>
<g class="B"><circle cx="150.18" cy="1631.5" r="4.65"/><circle cx="184.16" cy="1659.84" r="4.65"/><circle cx="161.32" cy="1663.93" r="4.65"/><circle cx="178.1" cy="1668.87" r="4.65"/><circle cx="224.35" cy="1666.47" r="4.65"/><circle cx="220.82" cy="1669.29" r="4.65"/><circle cx="268.06" cy="1664.64" r="4.65"/><circle cx="256.08" cy="1668.58" r="4.65"/><circle cx="298.38" cy="1664.35" r="4.65"/><circle cx="303.31" cy="1666.47" r="4.65"/><circle cx="320.52" cy="1656.88" r="4.65"/><circle cx="409.31" cy="1659.3" r="4.65"/><circle cx="406.87" cy="1664.65" r="4.65"/><circle cx="399.23" cy="1665.11" r="4.65"/></g>
<g class="O"><circle cx="173.3" cy="1685.51" r="4.65"/><circle cx="177.11" cy="1702.14" r="4.65"/><circle cx="238.03" cy="1702.85" r="4.65"/><circle cx="265.24" cy="1679.86" r="4.65"/><circle cx="256.08" cy="1689.74" r="4.65"/><circle cx="292.03" cy="1672.81" r="4.65"/><circle cx="287.8" cy="1676.76" r="4.65"/><circle cx="334.76" cy="1653.5" r="4.65"/><circle cx="303.31" cy="1677.75" r="4.65"/><circle cx="317.41" cy="1671.4" r="4.65"/><circle cx="337.16" cy="1672.11" r="4.65"/><circle cx="345.62" cy="1674.22" r="4.65"/><circle cx="357.6" cy="1672.11" r="4.65"/><circle cx="387.31" cy="1659.61" r="4.65"/></g>
<g class="G"><circle cx="154.27" cy="1692.7" r="4.65"/><circle cx="169.07" cy="1700.31" r="4.65"/><circle cx="171.89" cy="1707.36" r="4.65"/><circle cx="195.44" cy="1705.25" r="4.65"/><circle cx="194.74" cy="1710.61" r="4.65"/><circle cx="257.06" cy="1715.68" r="4.65"/><circle cx="290.62" cy="1701.3" r="4.65"/><circle cx="338.99" cy="1705.95" r="4.65"/><circle cx="350.13" cy="1704.54" r="4.65"/><circle cx="391.59" cy="1707.88" r="4.65"/><circle cx="395.72" cy="1706.96" r="4.65"/><circle cx="432.84" cy="1707.73" r="4.65"/><circle cx="459.88" cy="1704.37" r="4.65"/><circle cx="487.68" cy="1712.61" r="4.65"/></g>
<g class="Y"><circle cx="137.34" cy="1693.97" r="4.65"/><circle cx="184.86" cy="1696.08" r="4.65"/><circle cx="188.39" cy="1700.03" r="4.65"/><circle cx="196.15" cy="1700.31" r="4.65"/><circle cx="162.87" cy="1703.55" r="4.65"/><circle cx="205.31" cy="1693.68" r="4.65"/><circle cx="219.98" cy="1686.21" r="4.65"/><circle cx="230.98" cy="1694.25" r="4.65"/><circle cx="261.72" cy="1702.85" r="4.65"/><circle cx="282.44" cy="1690.02" r="4.65"/><circle cx="289.92" cy="1710.89" r="4.65"/><circle cx="337.58" cy="1694.67" r="4.65"/><circle cx="364.1" cy="1691.38" r="4.65"/><circle cx="369.44" cy="1691.84" r="4.65"/><circle cx="366.39" cy="1694.44" r="4.65"/></g>
<g class="L"><circle cx="178.94" cy="1652.79" r="4.65"/><circle cx="182.04" cy="1668.58" r="4.65"/><circle cx="210.67" cy="1662.94" r="4.65"/><circle cx="220.54" cy="1667.17" r="4.65"/><circle cx="236.9" cy="1655.33" r="4.65"/><circle cx="253.96" cy="1660.83" r="4.65"/><circle cx="269.47" cy="1673.52" r="4.65"/><circle cx="292.31" cy="1664.35" r="4.65"/><circle cx="284" cy="1672.81" r="4.65"/><circle cx="317.41" cy="1667.17" r="4.65"/><circle cx="330.81" cy="1670.42" r="4.65"/><circle cx="345.76" cy="1667.6" r="4.65"/><circle cx="379.37" cy="1668.47" r="4.65"/><circle cx="364.1" cy="1669.99" r="4.65"/></g>
<g class="R"><circle cx="197.84" cy="1648.14" r="4.65"/><circle cx="159.48" cy="1666.05" r="4.65"/><circle cx="163.71" cy="1684.1" r="4.65"/><circle cx="208.84" cy="1672.11" r="4.65"/><circle cx="213.77" cy="1674.22" r="4.65"/><circle cx="252.55" cy="1653.35" r="4.65"/><circle cx="243.81" cy="1667.17" r="4.65"/><circle cx="263.13" cy="1661.53" r="4.65"/><circle cx="288.37" cy="1653.35" r="4.65"/><circle cx="308.95" cy="1658.43" r="4.65"/><circle cx="316.71" cy="1664.35" r="4.65"/><circle cx="388.84" cy="1666.18" r="4.65"/><circle cx="395.41" cy="1671.98" r="4.65"/><circle cx="413.9" cy="1675.04" r="4.65"/></g>
<g class="D"><circle cx="180.63" cy="1694.95" r="4.65"/><circle cx="202.91" cy="1711.59" r="4.65"/><circle cx="210.39" cy="1703.13" r="4.65"/><circle cx="291.19" cy="1686.92" r="4.65"/><circle cx="346.32" cy="1691.85" r="4.65"/><circle cx="357.6" cy="1703.84" r="4.65"/><circle cx="420.31" cy="1685.27" r="4.65"/><circle cx="453.77" cy="1692.45" r="4.65"/><circle cx="444.75" cy="1696.27" r="4.65"/><circle cx="462.17" cy="1702.53" r="4.65"/><circle cx="498.07" cy="1698.87" r="4.65"/><circle cx="522.2" cy="1696.73" r="4.65"/><circle cx="527.09" cy="1692.14" r="4.65"/><circle cx="553.52" cy="1692.3" r="4.65"/><circle cx="560.09" cy="1703.14" r="4.65"/></g>
<g class="N"><circle cx="184.44" cy="1668.58" r="4.65"/><circle cx="183.88" cy="1679.58" r="4.65"/><circle cx="210.53" cy="1667.46" r="4.65"/><circle cx="236.05" cy="1669.71" r="4.65"/><circle cx="245.5" cy="1669.99" r="4.65"/><circle cx="245.5" cy="1673.94" r="4.65"/><circle cx="251.14" cy="1680.99" r="4.65"/><circle cx="259.6" cy="1667.88" r="4.65"/><circle cx="267.36" cy="1671.4" r="4.65"/><circle cx="264.54" cy="1674.93" r="4.65"/><circle cx="279.34" cy="1683.81" r="4.65"/><circle cx="304.02" cy="1673.52" r="4.65"/><circle cx="320.52" cy="1672.39" r="4.65"/><circle cx="330.11" cy="1674.22" r="4.65"/><circle cx="330.11" cy="1677.75" r="4.65"/></g>
<g class="K"><circle cx="161.6" cy="1669.99" r="4.65"/><circle cx="152.57" cy="1676.34" r="4.65"/><circle cx="172.6" cy="1686.63" r="4.65"/><circle cx="226.89" cy="1674.93" r="4.65"/><circle cx="232.39" cy="1680.57" r="4.65"/><circle cx="261.01" cy="1689.31" r="4.65"/><circle cx="307.12" cy="1675.92" r="4.65"/><circle cx="334.76" cy="1673.52" r="4.65"/><circle cx="339.98" cy="1679.86" r="4.65"/><circle cx="367.3" cy="1676.87" r="4.65"/><circle cx="381.66" cy="1677.33" r="4.65"/><circle cx="386.55" cy="1680.38" r="4.65"/><circle cx="446.13" cy="1681.45" r="4.65"/><circle cx="448.88" cy="1683.28" r="4.65"/><circle cx="470.42" cy="1683.74" r="4.65"/></g>
<text class="tk" text-anchor="end" x="101.7" y="1757.2">0.0</text><text class="tk" text-anchor="end" x="101.7" y="1666.8">1.0</text><text class="tk" text-anchor="end" x="101.7" y="1576.4">2.0</text><text class="tk" text-anchor="end" x="101.7" y="1486">3.0</text><text class="tk" text-anchor="end" x="101.7" y="1395.6">4.0</text>
<text class="tk" text-anchor="middle" x="121.8" y="1781.3">0</text><text class="tk" text-anchor="middle" x="200.67" y="1781.3">10</text><text class="tk" text-anchor="middle" x="279.53" y="1781.3">20</text><text class="tk" text-anchor="middle" x="358.4" y="1781.3">30</text><text class="tk" text-anchor="middle" x="437.27" y="1781.3">40</text><text class="tk" text-anchor="middle" x="516.13" y="1781.3">50</text><text class="tk" text-anchor="middle" x="595" y="1781.3">60</text>
<text class="ti" x="133" y="1427">Without seam/no-application</text>
<text class="pl" x="569.4" y="1463">j</text>
</g>
<g id="panel-k">
<path class="gr" d="M740.77 1390.5V1752.3M820.43 1390.5V1752.3M900.1 1390.5V1752.3M979.77 1390.5V1752.3M1059.43 1390.5V1752.3M661.1 1661.85H1139.1M661.1 1571.4H1139.1M661.1 1480.95H1139.1"/>
<path class="tm" d="M740.77 1752.3V1746.1M820.43 1752.3V1746.1M900.1 1752.3V1746.1M979.77 1752.3V1746.1M1059.43 1752.3V1746.1M661.1 1661.85H667.3M661.1 1571.4H667.3M661.1 1480.95H667.3"/>
<rect class="fr" x="661.1" y="1390.5" width="478" height="361.8"/>
<g class="B"><circle cx="689.08" cy="1656.73" r="4.65"/><circle cx="692.02" cy="1662.6" r="4.65"/><circle cx="724.1" cy="1656.14" r="4.65"/><circle cx="758.41" cy="1659.67" r="4.65"/><circle cx="776.62" cy="1663.78" r="4.65"/><circle cx="780.15" cy="1666.13" r="4.65"/><circle cx="814.22" cy="1669.07" r="4.65"/><circle cx="826.56" cy="1669.42" r="4.65"/><circle cx="916.92" cy="1667.3" r="4.65"/><circle cx="897.88" cy="1673.18" r="4.65"/><circle cx="930.19" cy="1670.24" r="4.65"/></g>
<g class="O"><circle cx="699.07" cy="1664.37" r="4.65"/><circle cx="721.98" cy="1659.67" r="4.65"/><circle cx="752.53" cy="1665.54" r="4.65"/><circle cx="771.92" cy="1662.02" r="4.65"/><circle cx="829.5" cy="1661.43" r="4.65"/><circle cx="869.09" cy="1660.84" r="4.65"/><circle cx="886.13" cy="1662.02" r="4.65"/><circle cx="896.12" cy="1660.25" r="4.65"/><circle cx="907.87" cy="1660.25" r="4.65"/><circle cx="929.61" cy="1660.84" r="4.65"/><circle cx="926.08" cy="1663.54" r="4.65"/></g>
<g class="G"><circle cx="702.59" cy="1669.65" r="4.65"/><circle cx="700.24" cy="1673.77" r="4.65"/><circle cx="707.53" cy="1677.88" r="4.65"/><circle cx="728.68" cy="1669.07" r="4.65"/><circle cx="748.65" cy="1674.71" r="4.65"/><circle cx="757.82" cy="1670.24" r="4.65"/><circle cx="822.45" cy="1672" r="4.65"/><circle cx="832.67" cy="1677.06" r="4.65"/><circle cx="863.8" cy="1674.59" r="4.65"/><circle cx="873.2" cy="1672.94" r="4.65"/><circle cx="900.23" cy="1672" r="4.65"/><circle cx="907.28" cy="1676.7" r="4.65"/><circle cx="906.1" cy="1678.47" r="4.65"/><circle cx="909.39" cy="1680.23" r="4.65"/></g>
<g class="Y"><circle cx="719.04" cy="1661.43" r="4.65"/><circle cx="733.73" cy="1666.13" r="4.65"/><circle cx="760.17" cy="1665.54" r="4.65"/><circle cx="789.78" cy="1675.29" r="4.65"/><circle cx="800.12" cy="1673.18" r="4.65"/><circle cx="804.24" cy="1678.47" r="4.65"/><circle cx="819.51" cy="1665.54" r="4.65"/><circle cx="824.57" cy="1675.29" r="4.65"/><circle cx="841.02" cy="1665.31" r="4.65"/><circle cx="853.59" cy="1672.59" r="4.65"/><circle cx="857.34" cy="1669.65" r="4.65"/></g>
<g class="L"><circle cx="710.23" cy="1667.89" r="4.65"/><circle cx="723.74" cy="1661.43" r="4.65"/><circle cx="747.83" cy="1662.6" r="4.65"/><circle cx="776.03" cy="1655.55" r="4.65"/><circle cx="797.77" cy="1661.78" r="4.65"/><circle cx="810.11" cy="1660.25" r="4.65"/><circle cx="818.92" cy="1660.25" r="4.65"/><circle cx="830.32" cy="1654.96" r="4.65"/><circle cx="850.42" cy="1658.49" r="4.65"/><circle cx="863.45" cy="1656.73" r="4.65"/><circle cx="879.9" cy="1655.9" r="4.65"/></g>
<g class="R"><circle cx="674.98" cy="1656.14" r="4.65"/><circle cx="676.74" cy="1654.38" r="4.65"/><circle cx="684.38" cy="1654.96" r="4.65"/><circle cx="711.4" cy="1657.67" r="4.65"/><circle cx="708.47" cy="1662.6" r="4.65"/><circle cx="736.43" cy="1654.38" r="4.65"/><circle cx="764.28" cy="1655.55" r="4.65"/><circle cx="767.81" cy="1658.49" r="4.65"/><circle cx="780.15" cy="1656.73" r="4.65"/><circle cx="793.07" cy="1656.14" r="4.65"/><circle cx="827.15" cy="1660.25" r="4.65"/><circle cx="863.21" cy="1660.25" r="4.65"/><circle cx="887.3" cy="1662.6" r="4.65"/><circle cx="914.92" cy="1665.54" r="4.65"/></g>
<g class="D"><circle cx="716.1" cy="1672" r="4.65"/><circle cx="718.45" cy="1674.35" r="4.65"/><circle cx="759.58" cy="1675.53" r="4.65"/><circle cx="800.71" cy="1668.24" r="4.65"/><circle cx="847.48" cy="1670.59" r="4.65"/><circle cx="914.33" cy="1662.6" r="4.65"/><circle cx="915.86" cy="1663.78" r="4.65"/><circle cx="905.16" cy="1669.65" r="4.65"/><circle cx="945.47" cy="1665.78" r="4.65"/><circle cx="951.93" cy="1663.78" r="4.65"/><circle cx="958.16" cy="1659.43" r="4.65"/><circle cx="972.73" cy="1661.08" r="4.65"/><circle cx="996" cy="1661.66" r="4.65"/><circle cx="1018.91" cy="1661.66" r="4.65"/><circle cx="1049.24" cy="1666.15" r="4.65"/></g>
<g class="N"><circle cx="709.29" cy="1660.25" r="4.65"/><circle cx="713.17" cy="1659.67" r="4.65"/><circle cx="729.97" cy="1659.43" r="4.65"/><circle cx="742.54" cy="1660.25" r="4.65"/><circle cx="746.07" cy="1659.08" r="4.65"/><circle cx="752.88" cy="1658.84" r="4.65"/><circle cx="764.87" cy="1662.37" r="4.65"/><circle cx="784.26" cy="1662.25" r="4.65"/><circle cx="803.3" cy="1664.72" r="4.65"/><circle cx="813.64" cy="1659.67" r="4.65"/><circle cx="815.99" cy="1663.78" r="4.65"/><circle cx="852.41" cy="1668.48" r="4.65"/><circle cx="862.63" cy="1664.37" r="4.65"/><circle cx="867.33" cy="1668.13" r="4.65"/></g>
<g class="K"><circle cx="684.96" cy="1669.07" r="4.65"/><circle cx="682.26" cy="1674.35" r="4.65"/><circle cx="692.6" cy="1670.01" r="4.65"/><circle cx="738.43" cy="1669.65" r="4.65"/><circle cx="743.13" cy="1669.65" r="4.65"/><circle cx="755.24" cy="1664.37" r="4.65"/><circle cx="803.3" cy="1667.3" r="4.65"/><circle cx="812.46" cy="1662.6" r="4.65"/><circle cx="820.45" cy="1662.6" r="4.65"/><circle cx="854.18" cy="1662.02" r="4.65"/><circle cx="868.15" cy="1661.66" r="4.65"/><circle cx="889.65" cy="1660.84" r="4.65"/><circle cx="902.58" cy="1661.78" r="4.65"/><circle cx="905.87" cy="1662.84" r="4.65"/><circle cx="941.71" cy="1665.31" r="4.65"/></g>
<text class="tk" text-anchor="end" x="638.1" y="1758.9">0.0</text><text class="tk" text-anchor="end" x="638.1" y="1668.45">1.0</text><text class="tk" text-anchor="end" x="638.1" y="1578">2.0</text><text class="tk" text-anchor="end" x="638.1" y="1487.55">3.0</text><text class="tk" text-anchor="end" x="638.1" y="1397.1">4.0</text>
<text class="tk" text-anchor="middle" x="658.1" y="1783">0</text><text class="tk" text-anchor="middle" x="737.77" y="1783">10</text><text class="tk" text-anchor="middle" x="817.43" y="1783">20</text><text class="tk" text-anchor="middle" x="897.1" y="1783">30</text><text class="tk" text-anchor="middle" x="976.77" y="1783">40</text><text class="tk" text-anchor="middle" x="1056.43" y="1783">50</text><text class="tk" text-anchor="middle" x="1136.1" y="1783">60</text>
<text class="ti" x="674" y="1429">Without seam/rosin</text>
<text class="pl" x="1087.5" y="1457.6">k</text>
</g>
<g id="panel-l">
<path class="gr" d="M1295.1 1386.9V1750.1M1374.9 1386.9V1750.1M1454.7 1386.9V1750.1M1534.5 1386.9V1750.1M1614.3 1386.9V1750.1M1215.3 1659.3H1694.1M1215.3 1568.5H1694.1M1215.3 1477.7H1694.1"/>
<path class="tm" d="M1295.1 1750.1V1743.9M1374.9 1750.1V1743.9M1454.7 1750.1V1743.9M1534.5 1750.1V1743.9M1614.3 1750.1V1743.9M1215.3 1659.3H1221.5M1215.3 1568.5H1221.5M1215.3 1477.7H1221.5"/>
<rect class="fr" x="1215.3" y="1386.9" width="478.8" height="363.2"/>
<g class="B"><circle cx="1235.38" cy="1530.44" r="4.65"/><circle cx="1249.48" cy="1560.76" r="4.65"/><circle cx="1243.42" cy="1590.09" r="4.65"/><circle cx="1259.35" cy="1597.42" r="4.65"/><circle cx="1296.72" cy="1614.34" r="4.65"/><circle cx="1283.33" cy="1624.97" r="4.65"/><circle cx="1372.59" cy="1641.47" r="4.65"/><circle cx="1330.14" cy="1647.81" r="4.65"/><circle cx="1377.38" cy="1651.34" r="4.65"/><circle cx="1384.15" cy="1659.52" r="4.65"/><circle cx="1446.9" cy="1658.81" r="4.65"/><circle cx="1490.67" cy="1663.75" r="4.65"/><circle cx="1465.71" cy="1671.08" r="4.65"/></g>
<g class="O"><circle cx="1231.43" cy="1472.77" r="4.65"/><circle cx="1245.53" cy="1505.06" r="4.65"/><circle cx="1254.84" cy="1528.33" r="4.65"/><circle cx="1306.45" cy="1583.32" r="4.65"/><circle cx="1347.2" cy="1589.95" r="4.65"/><circle cx="1341" cy="1603.77" r="4.65"/><circle cx="1410.94" cy="1621.3" r="4.65"/><circle cx="1413.76" cy="1627.65" r="4.65"/><circle cx="1427.16" cy="1619.19" r="4.65"/><circle cx="1432.51" cy="1617.5" r="4.65"/><circle cx="1430.68" cy="1623.84" r="4.65"/><circle cx="1438.01" cy="1632.73" r="4.65"/><circle cx="1454.99" cy="1633.85" r="4.65"/><circle cx="1473.33" cy="1626.94" r="4.65"/><circle cx="1472.76" cy="1640.34" r="4.65"/></g>
<g class="G"><circle cx="1236.93" cy="1527.62" r="4.65"/><circle cx="1234.54" cy="1553" r="4.65"/><circle cx="1237.92" cy="1561.18" r="4.65"/><circle cx="1258.65" cy="1572.04" r="4.65"/><circle cx="1314.35" cy="1587.55" r="4.65"/><circle cx="1260.34" cy="1589.95" r="4.65"/><circle cx="1297.43" cy="1596.43" r="4.65"/><circle cx="1320.41" cy="1609.12" r="4.65"/><circle cx="1288.97" cy="1608.7" r="4.65"/><circle cx="1374.98" cy="1609.12" r="4.65"/><circle cx="1372.44" cy="1623.84" r="4.65"/><circle cx="1365.11" cy="1639.35" r="4.65"/><circle cx="1394.02" cy="1628.78" r="4.65"/><circle cx="1389.37" cy="1647.11" r="4.65"/></g>
<g class="Y"><circle cx="1267.67" cy="1570.91" r="4.65"/><circle cx="1271.62" cy="1587.97" r="4.65"/><circle cx="1267.11" cy="1596.01" r="4.65"/><circle cx="1317.03" cy="1595.45" r="4.65"/><circle cx="1286.15" cy="1600.52" r="4.65"/><circle cx="1304.48" cy="1612.23" r="4.65"/><circle cx="1309.41" cy="1620.6" r="4.65"/><circle cx="1329.15" cy="1618.2" r="4.65"/><circle cx="1324.92" cy="1621.73" r="4.65"/><circle cx="1329.86" cy="1630.89" r="4.65"/><circle cx="1352.14" cy="1620.74" r="4.65"/><circle cx="1351.01" cy="1628.07" r="4.65"/><circle cx="1359.47" cy="1635.12" r="4.65"/><circle cx="1398.53" cy="1644.71" r="4.65"/><circle cx="1461.76" cy="1658.11" r="4.65"/></g>
<g class="L"><circle cx="1271.62" cy="1596.43" r="4.65"/><circle cx="1298.55" cy="1606.59" r="4.65"/><circle cx="1288.26" cy="1611.52" r="4.65"/><circle cx="1276.27" cy="1622.15" r="4.65"/><circle cx="1339.45" cy="1626.94" r="4.65"/><circle cx="1329.15" cy="1630.19" r="4.65"/><circle cx="1353.55" cy="1636.82" r="4.65"/><circle cx="1394.72" cy="1637.94" r="4.65"/><circle cx="1391.48" cy="1643.58" r="4.65"/><circle cx="1360.46" cy="1646.83" r="4.65"/><circle cx="1346.22" cy="1662.9" r="4.65"/><circle cx="1416.02" cy="1640.9" r="4.65"/><circle cx="1439.57" cy="1644.99" r="4.65"/><circle cx="1415.17" cy="1661.63" r="4.65"/><circle cx="1420.11" cy="1664.31" r="4.65"/></g>
<g class="R"><circle cx="1226.78" cy="1509.99" r="4.65"/><circle cx="1227.34" cy="1523.81" r="4.65"/><circle cx="1239.19" cy="1589.95" r="4.65"/><circle cx="1266.83" cy="1597.7" r="4.65"/><circle cx="1266.4" cy="1602.36" r="4.65"/><circle cx="1275.15" cy="1628.35" r="4.65"/><circle cx="1296.02" cy="1626.94" r="4.65"/><circle cx="1332.4" cy="1628.07" r="4.65"/><circle cx="1379.64" cy="1640.48" r="4.65"/><circle cx="1310.4" cy="1650.92" r="4.65"/><circle cx="1381.33" cy="1652.47" r="4.65"/><circle cx="1379.07" cy="1671.93" r="4.65"/><circle cx="1457.96" cy="1650.21" r="4.65"/><circle cx="1472.9" cy="1668.82" r="4.65"/><circle cx="1490.81" cy="1682.64" r="4.65"/></g>
<g class="D"><circle cx="1260.62" cy="1550.75" r="4.65"/><circle cx="1298.84" cy="1569.64" r="4.65"/><circle cx="1290.09" cy="1579.37" r="4.65"/><circle cx="1330.56" cy="1594.18" r="4.65"/><circle cx="1406.71" cy="1613.97" r="4.65"/><circle cx="1411.93" cy="1613.55" r="4.65"/><circle cx="1462.75" cy="1631.18" r="4.65"/><circle cx="1470.51" cy="1624.27" r="4.65"/><circle cx="1471.63" cy="1634.7" r="4.65"/><circle cx="1486.86" cy="1627.79" r="4.65"/><circle cx="1497.86" cy="1634.7" r="4.65"/><circle cx="1526.91" cy="1636.67" r="4.65"/><circle cx="1542" cy="1642.17" r="4.65"/><circle cx="1547.92" cy="1650.92" r="4.65"/><circle cx="1569.07" cy="1652.04" r="4.65"/></g>
<g class="N"><circle cx="1238.34" cy="1578.95" r="4.65"/><circle cx="1249.48" cy="1595.31" r="4.65"/><circle cx="1264.15" cy="1609.69" r="4.65"/><circle cx="1296.02" cy="1609.41" r="4.65"/><circle cx="1289.95" cy="1617.5" r="4.65"/><circle cx="1300.53" cy="1619.19" r="4.65"/><circle cx="1331.27" cy="1620.04" r="4.65"/><circle cx="1323.51" cy="1625.25" r="4.65"/><circle cx="1318.86" cy="1628.78" r="4.65"/><circle cx="1307.58" cy="1634.7" r="4.65"/><circle cx="1335.5" cy="1632.02" r="4.65"/><circle cx="1364.69" cy="1628.35" r="4.65"/><circle cx="1367.51" cy="1635.83" r="4.65"/><circle cx="1390.92" cy="1635.83" r="4.65"/></g>
<g class="K"><circle cx="1248.07" cy="1557.51" r="4.65"/><circle cx="1251.32" cy="1587.97" r="4.65"/><circle cx="1294.61" cy="1592.49" r="4.65"/><circle cx="1350.02" cy="1597.7" r="4.65"/><circle cx="1380.62" cy="1605.18" r="4.65"/><circle cx="1289.25" cy="1627.37" r="4.65"/><circle cx="1377.38" cy="1632.3" r="4.65"/><circle cx="1410.24" cy="1623.56" r="4.65"/><circle cx="1417" cy="1612" r="4.65"/><circle cx="1465.99" cy="1626.94" r="4.65"/></g>
<text class="tk" text-anchor="end" x="1192.2" y="1756.7">0.0</text><text class="tk" text-anchor="end" x="1192.2" y="1665.9">1.0</text><text class="tk" text-anchor="end" x="1192.2" y="1575.1">2.0</text><text class="tk" text-anchor="end" x="1192.2" y="1484.3">3.0</text><text class="tk" text-anchor="end" x="1192.2" y="1393.5">4.0</text>
<text class="tk" text-anchor="middle" x="1212.3" y="1780.8">0</text><text class="tk" text-anchor="middle" x="1292.1" y="1780.8">10</text><text class="tk" text-anchor="middle" x="1371.9" y="1780.8">20</text><text class="tk" text-anchor="middle" x="1451.7" y="1780.8">30</text><text class="tk" text-anchor="middle" x="1531.5" y="1780.8">40</text><text class="tk" text-anchor="middle" x="1611.3" y="1780.8">50</text><text class="tk" text-anchor="middle" x="1691.1" y="1780.8">60</text>
<text class="ti" x="1258" y="1430">Without seam/</text>
<text class="ti" x="1258" y="1470.4">sticky substance</text>
<text class="pl" x="1649.4" y="1457.5">l</text>
</g>
<g id="xlabel1"><text class="ax" font-size="42.5" stroke="#000" stroke-width="0.3" transform="translate(679.10,893.00) scale(0.964,1)">Normal force</text><text class="ax" font-size="42.5" font-style="italic" stroke="#000" stroke-width="0.3" transform="translate(945.50,893.00)">F</text><text class="ax" font-size="26.7" stroke="#000" stroke-width="0.5" transform="translate(967.70,902.90) scale(1.100,1)">z</text><text class="ax" font-size="26.7" stroke="#000" stroke-width="0.5" transform="translate(982.20,903.60) scale(0.900,1)">_</text><text class="ax" font-size="37" font-style="italic" style="font-weight:normal" stroke="#000" stroke-width="1" stroke-linejoin="round" transform="translate(998.20,893.60) scale(1.260,1)">μ</text><text class="ax" font-size="26.7" stroke="#000" stroke-width="0.5" transform="translate(1020.40,902.90) scale(1.027,1)">max</text><text class="ax" font-size="42.5" stroke="#000" stroke-width="0.3" transform="translate(1074.40,893.00) scale(1.100,1)">,</text><text class="ax" font-size="42.5" stroke="#000" stroke-width="0.3" transform="translate(1097.30,893.00) scale(0.972,1)">N</text></g>
<g id="xlabel2"><text class="ax" font-size="42.5" stroke="#000" stroke-width="0.3" transform="translate(669.10,1841.50) scale(0.964,1)">Normal force</text><text class="ax" font-size="42.5" font-style="italic" stroke="#000" stroke-width="0.3" transform="translate(935.50,1841.50)">F</text><text class="ax" font-size="26.7" stroke="#000" stroke-width="0.5" transform="translate(957.70,1851.40) scale(1.100,1)">z</text><text class="ax" font-size="26.7" stroke="#000" stroke-width="0.5" transform="translate(972.20,1852.10) scale(0.900,1)">_</text><text class="ax" font-size="37" font-style="italic" style="font-weight:normal" stroke="#000" stroke-width="1" stroke-linejoin="round" transform="translate(988.20,1842.10) scale(1.260,1)">μ</text><text class="ax" font-size="26.7" stroke="#000" stroke-width="0.5" transform="translate(1010.40,1851.40) scale(1.027,1)">max</text><text class="ax" font-size="42.5" stroke="#000" stroke-width="0.3" transform="translate(1064.40,1841.50) scale(1.100,1)">,</text><text class="ax" font-size="42.5" stroke="#000" stroke-width="0.3" transform="translate(1087.30,1841.50) scale(0.972,1)">N</text></g>
<g id="ylabel1"><text class="ax" font-size="42.5" stroke="#000" stroke-width="0.3" transform="translate(30.40,626.70) rotate(-90) scale(0.962,1)">Friction force</text><text class="ax" font-size="42.5" font-style="italic" stroke="#000" stroke-width="0.3" transform="translate(30.40,352.40) rotate(-90)">F</text><text class="ax" font-size="26.7" stroke="#000" stroke-width="0.5" transform="translate(40.30,328.10) rotate(-90) scale(0.970,1)">y</text><text class="ax" font-size="26.7" stroke="#000" stroke-width="0.5" transform="translate(41.00,314.50) rotate(-90) scale(0.900,1)">_</text><text class="ax" font-size="37" font-style="italic" style="font-weight:normal" stroke="#000" stroke-width="1" stroke-linejoin="round" transform="translate(30.60,298.20) rotate(-90) scale(1.260,1)">μ</text><text class="ax" font-size="26.7" stroke="#000" stroke-width="0.5" transform="translate(40.30,275.80) rotate(-90) scale(1.014,1)">max</text><text class="ax" font-size="42.5" stroke="#000" stroke-width="0.3" transform="translate(30.40,220.50) rotate(-90)">,</text><text class="ax" font-size="42.5" stroke="#000" stroke-width="0.3" transform="translate(30.40,198.50) rotate(-90) scale(0.960,1)">N</text></g>
<g id="ylabel2"><text class="ax" font-size="42.5" stroke="#000" stroke-width="0.3" transform="translate(36.00,1590.20) rotate(-90) scale(0.960,1)">Friction coefficient</text><text class="ax" font-size="37" font-style="italic" style="font-weight:normal" stroke="#000" stroke-width="1" stroke-linejoin="round" transform="translate(36.40,1212.30) rotate(-90) scale(1.260,1)">μ</text><text class="ax" font-size="26.7" stroke="#000" stroke-width="0.5" transform="translate(45.90,1189.90) rotate(-90) scale(1.014,1)">max</text></g>
</svg>
</body>
</html>
